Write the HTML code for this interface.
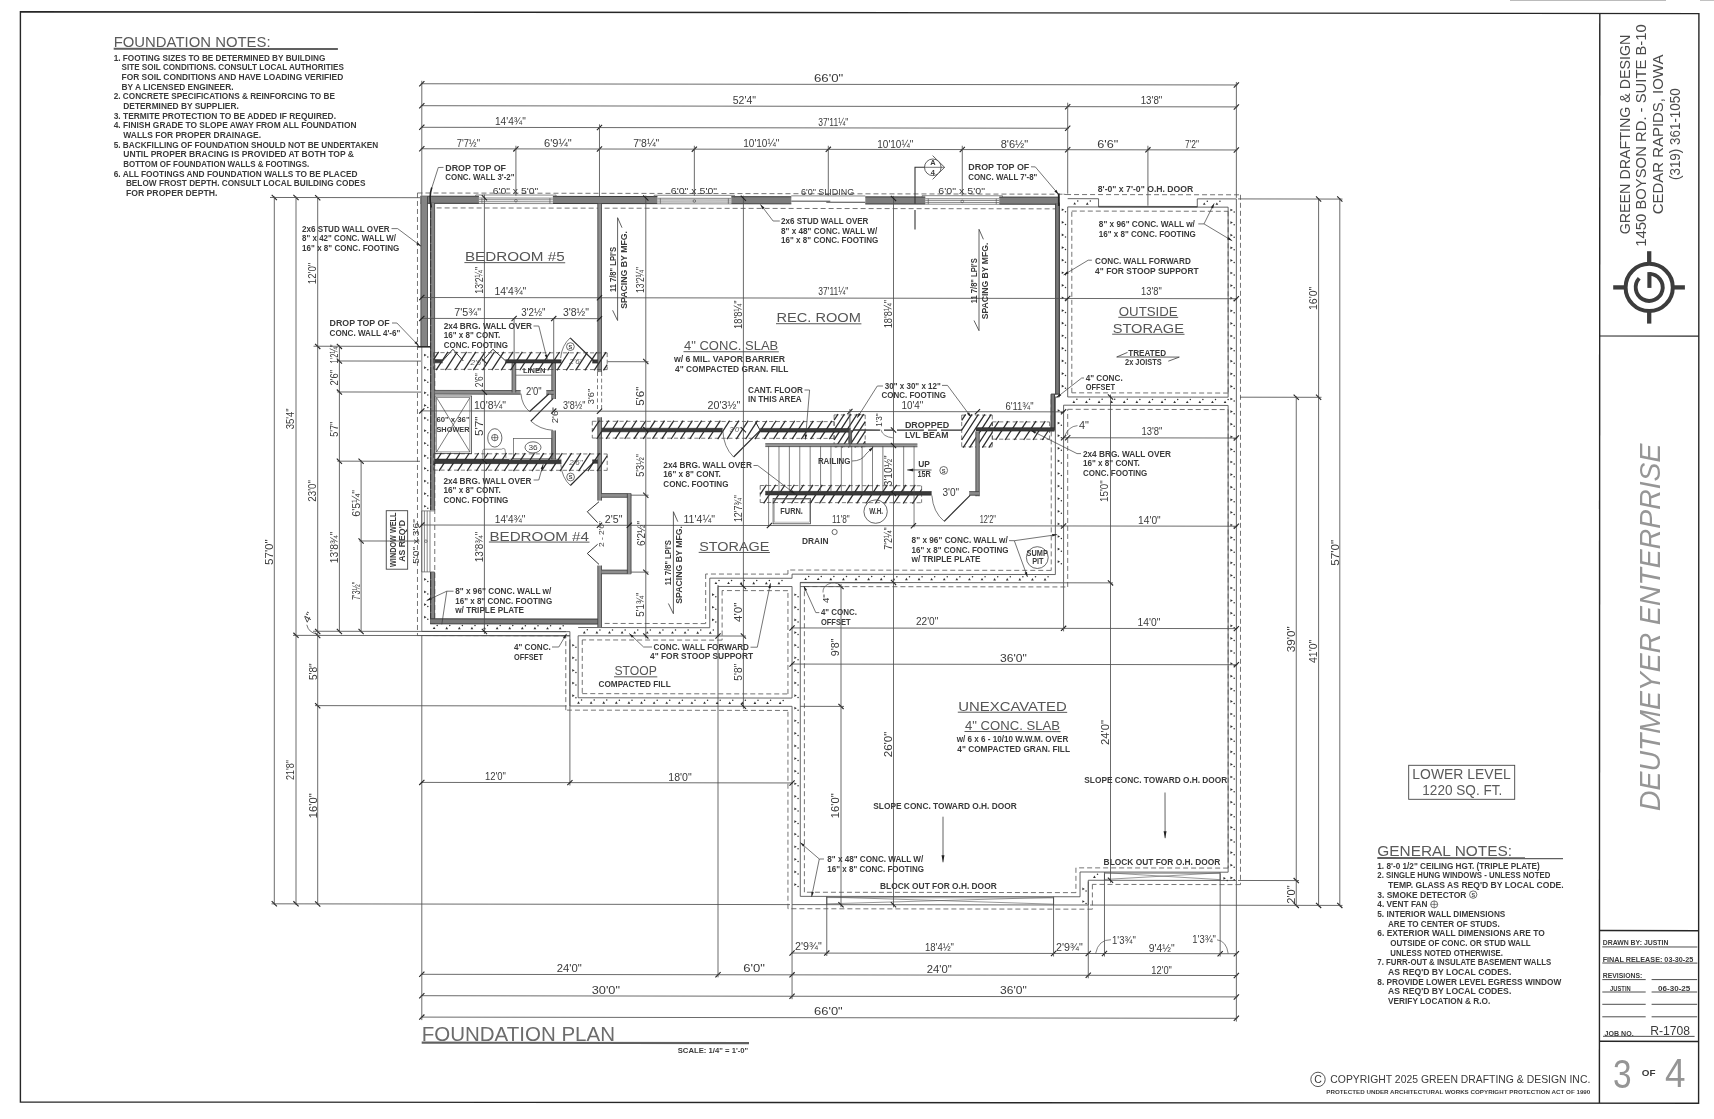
<!DOCTYPE html>
<html><head><meta charset="utf-8"><title>Foundation Plan</title>
<style>html,body{margin:0;padding:0;background:#fff}svg{display:block;filter:grayscale(1)}text{font-family:"Liberation Sans",sans-serif;fill:#3a3a3a}</style></head>
<body>
<svg width="1714" height="1119" viewBox="0 0 1714 1119">
<rect width="1714" height="1119" fill="#fff"/>
<polygon points="20.4,11.7 1698.9,13.6 1698.6,1103.2 20.4,1102" fill="none" stroke="#262626" stroke-width="1.4"/>
<line x1="1599.8" y1="13.5" x2="1599.4" y2="1103.1" stroke="#262626" stroke-width="1.4"/>
<line x1="1599.7" y1="336" x2="1698.8" y2="336.1" stroke="#262626" stroke-width="1.2"/>
<line x1="1599.5" y1="930.6" x2="1698.7" y2="930.8" stroke="#262626" stroke-width="1.5"/>
<line x1="1599.5" y1="1041.3" x2="1698.7" y2="1041.5" stroke="#262626" stroke-width="1.5"/>
<line x1="1510" y1="0.3" x2="1666" y2="0.3" stroke="#bbb" stroke-width="1.2"/>
<line x1="1700" y1="0.3" x2="1714" y2="0.3" stroke="#bbb" stroke-width="1.2"/>
<line x1="1602.3" y1="946.9" x2="1697.4" y2="947" stroke="#3a3a3a" stroke-width="0.9"/>
<line x1="1602.3" y1="963" x2="1697.4" y2="963.1" stroke="#3a3a3a" stroke-width="0.9"/>
<line x1="1602.3" y1="979.6" x2="1645.7" y2="979.6" stroke="#3a3a3a" stroke-width="0.9"/>
<line x1="1651.6" y1="979.6" x2="1697.2" y2="979.6" stroke="#3a3a3a" stroke-width="0.9"/>
<line x1="1602.3" y1="992" x2="1645.7" y2="992" stroke="#3a3a3a" stroke-width="0.9"/>
<line x1="1651.6" y1="992" x2="1697.2" y2="992" stroke="#3a3a3a" stroke-width="0.9"/>
<line x1="1602.3" y1="1004.3" x2="1645.7" y2="1004.3" stroke="#3a3a3a" stroke-width="0.9"/>
<line x1="1651.6" y1="1004.3" x2="1697.2" y2="1004.3" stroke="#3a3a3a" stroke-width="0.9"/>
<line x1="1602.3" y1="1016.8" x2="1645.7" y2="1016.8" stroke="#3a3a3a" stroke-width="0.9"/>
<line x1="1651.6" y1="1016.8" x2="1697.2" y2="1016.8" stroke="#3a3a3a" stroke-width="0.9"/>
<line x1="1603" y1="1036.3" x2="1694.6" y2="1036.4" stroke="#3a3a3a" stroke-width="0.9"/>
<text x="1602.7" y="945.4" font-size="7.2" textLength="65.7" lengthAdjust="spacingAndGlyphs" font-weight="bold">DRAWN BY: JUSTIN</text>
<text x="1602.7" y="961.6" font-size="7.2" textLength="90.6" lengthAdjust="spacingAndGlyphs" font-weight="bold">FINAL RELEASE: 03-30-25</text>
<text x="1602.7" y="977.7" font-size="7.2" textLength="39.7" lengthAdjust="spacingAndGlyphs" font-weight="bold">REVISIONS:</text>
<text x="1610.1" y="991" font-size="7" textLength="20.6" lengthAdjust="spacingAndGlyphs" font-weight="bold">JUSTIN</text>
<text x="1658" y="991" font-size="7" textLength="32.3" lengthAdjust="spacingAndGlyphs" font-weight="bold">06-30-25</text>
<text x="1604.6" y="1035.6" font-size="6.8" textLength="29" lengthAdjust="spacingAndGlyphs" font-weight="bold">JOB NO.</text>
<text x="1650.2" y="1034.6" font-size="12.9" textLength="39.8" lengthAdjust="spacingAndGlyphs">R-1708</text>
<text x="1613" y="1088.2" font-size="41" textLength="18.6" lengthAdjust="spacingAndGlyphs" style="fill:#959595">3</text>
<text x="1641.8" y="1075.5" font-size="9" textLength="13.7" lengthAdjust="spacingAndGlyphs" font-weight="bold">OF</text>
<text x="1664.9" y="1087.4" font-size="41" textLength="20.5" lengthAdjust="spacingAndGlyphs" style="fill:#959595">4</text>
<text x="1629.8" y="234.3" font-size="15" textLength="199.7" lengthAdjust="spacingAndGlyphs" transform="rotate(-90 1629.8 234.3)" style="fill:#4a4a4a">GREEN DRAFTING &amp; DESIGN</text>
<text x="1646.4" y="246.7" font-size="15" textLength="222.5" lengthAdjust="spacingAndGlyphs" transform="rotate(-90 1646.4 246.7)" style="fill:#4a4a4a">1450 BOYSON RD. - SUITE B-10</text>
<text x="1662.8" y="214.3" font-size="15" textLength="159.7" lengthAdjust="spacingAndGlyphs" transform="rotate(-90 1662.8 214.3)" style="fill:#4a4a4a">CEDAR RAPIDS, IOWA</text>
<text x="1680.2" y="180" font-size="15" textLength="91.7" lengthAdjust="spacingAndGlyphs" transform="rotate(-90 1680.2 180)" style="fill:#4a4a4a">(319) 361-1050</text>
<circle cx="1649.2" cy="287.4" r="23.6" fill="none" stroke="#3c3c3c" stroke-width="4"/>
<line x1="1613.2" y1="287.4" x2="1625.2" y2="287.4" stroke="#3c3c3c" stroke-width="4.3"/>
<line x1="1673.2" y1="287.4" x2="1684.9" y2="287.4" stroke="#3c3c3c" stroke-width="4.3"/>
<line x1="1649.2" y1="251.2" x2="1649.2" y2="263.4" stroke="#3c3c3c" stroke-width="4.3"/>
<line x1="1649.2" y1="311.4" x2="1649.2" y2="323.6" stroke="#3c3c3c" stroke-width="4.3"/>
<path d="M 1649.4 273.9 A 13.5 13.5 0 1 1 1639.23 278.3" fill="none" stroke="#3c3c3c" stroke-width="3.9"/>
<line x1="1649.4" y1="272.1" x2="1649.4" y2="287.9" stroke="#3c3c3c" stroke-width="4.1"/>
<text x="1660" y="811" font-size="29" textLength="367.5" lengthAdjust="spacingAndGlyphs" transform="rotate(-90 1660 811)" font-style="italic" style="fill:#969696">DEUTMEYER ENTERPRISE</text>
<text x="113.7" y="46.8" font-size="14.8" textLength="156.9" lengthAdjust="spacingAndGlyphs" style="fill:#5a5a5a">FOUNDATION NOTES:</text>
<line x1="113.7" y1="48.8" x2="337.9" y2="49.1" stroke="#606060" stroke-width="2"/>
<text x="113.7" y="60.7" font-size="8.4" textLength="211.6" lengthAdjust="spacingAndGlyphs" font-weight="bold">1. FOOTING SIZES TO BE DETERMINED BY BUILDING</text>
<text x="121.6" y="70.36" font-size="8.4" textLength="222.3" lengthAdjust="spacingAndGlyphs" font-weight="bold">SITE SOIL CONDITIONS.  CONSULT LOCAL AUTHORITIES</text>
<text x="121.6" y="80.02" font-size="8.4" textLength="221.6" lengthAdjust="spacingAndGlyphs" font-weight="bold">FOR SOIL CONDITIONS AND HAVE LOADING VERIFIED</text>
<text x="121.6" y="89.68" font-size="8.4" textLength="111.9" lengthAdjust="spacingAndGlyphs" font-weight="bold">BY A LICENSED ENGINEER.</text>
<text x="113.7" y="99.34" font-size="8.4" textLength="221.3" lengthAdjust="spacingAndGlyphs" font-weight="bold">2. CONCRETE SPECIFICATIONS &amp; REINFORCING TO BE</text>
<text x="123.3" y="109" font-size="8.4" textLength="115.5" lengthAdjust="spacingAndGlyphs" font-weight="bold">DETERMINED BY SUPPLIER.</text>
<text x="113.7" y="118.66" font-size="8.4" textLength="222.3" lengthAdjust="spacingAndGlyphs" font-weight="bold">3. TERMITE PROTECTION TO BE ADDED IF REQUIRED.</text>
<text x="113.7" y="128.32" font-size="8.4" textLength="242.8" lengthAdjust="spacingAndGlyphs" font-weight="bold">4. FINISH GRADE TO SLOPE AWAY FROM ALL FOUNDATION</text>
<text x="123.3" y="137.98" font-size="8.4" textLength="137.7" lengthAdjust="spacingAndGlyphs" font-weight="bold">WALLS FOR PROPER DRAINAGE.</text>
<text x="113.7" y="147.64" font-size="8.4" textLength="264.6" lengthAdjust="spacingAndGlyphs" font-weight="bold">5. BACKFILLING OF FOUNDATION SHOULD NOT BE UNDERTAKEN</text>
<text x="123.3" y="157.3" font-size="8.4" textLength="230.7" lengthAdjust="spacingAndGlyphs" font-weight="bold">UNTIL PROPER BRACING IS PROVIDED AT BOTH TOP &amp;</text>
<text x="123.3" y="166.96" font-size="8.4" textLength="186" lengthAdjust="spacingAndGlyphs" font-weight="bold">BOTTOM OF FOUNDATION WALLS &amp; FOOTINGS.</text>
<text x="113.7" y="176.62" font-size="8.4" textLength="243.8" lengthAdjust="spacingAndGlyphs" font-weight="bold">6. ALL FOOTINGS AND FOUNDATION WALLS TO BE PLACED</text>
<text x="125.9" y="186.28" font-size="8.4" textLength="239.5" lengthAdjust="spacingAndGlyphs" font-weight="bold">BELOW FROST DEPTH.  CONSULT LOCAL BUILDING CODES</text>
<text x="125.9" y="195.94" font-size="8.4" textLength="91.5" lengthAdjust="spacingAndGlyphs" font-weight="bold">FOR PROPER DEPTH.</text>
<line x1="420.8" y1="83.75" x2="1237.37" y2="84.97" stroke="#505050" stroke-width="0.85"/>
<line x1="419.2" y1="86.35" x2="424.4" y2="81.15" stroke="#222" stroke-width="1.1"/>
<line x1="1233.77" y1="87.57" x2="1238.97" y2="82.37" stroke="#222" stroke-width="1.1"/>
<line x1="420.8" y1="105.7" x2="1237.37" y2="106.92" stroke="#505050" stroke-width="0.85"/>
<line x1="419.2" y1="108.3" x2="424.4" y2="103.1" stroke="#222" stroke-width="1.1"/>
<line x1="1065.1" y1="109.27" x2="1070.3" y2="104.07" stroke="#222" stroke-width="1.1"/>
<line x1="1233.77" y1="109.52" x2="1238.97" y2="104.32" stroke="#222" stroke-width="1.1"/>
<line x1="420.8" y1="127.3" x2="1068.7" y2="128.27" stroke="#505050" stroke-width="0.85"/>
<line x1="419.2" y1="129.9" x2="424.4" y2="124.7" stroke="#222" stroke-width="1.1"/>
<line x1="596.87" y1="130.17" x2="602.07" y2="124.97" stroke="#222" stroke-width="1.1"/>
<line x1="1065.1" y1="130.87" x2="1070.3" y2="125.67" stroke="#222" stroke-width="1.1"/>
<line x1="420.8" y1="148.75" x2="1237.37" y2="149.97" stroke="#505050" stroke-width="0.85"/>
<line x1="419.2" y1="151.35" x2="424.4" y2="146.15" stroke="#222" stroke-width="1.1"/>
<line x1="513.31" y1="151.49" x2="518.51" y2="146.29" stroke="#222" stroke-width="1.1"/>
<line x1="596.87" y1="151.62" x2="602.07" y2="146.42" stroke="#222" stroke-width="1.1"/>
<line x1="691.75" y1="151.76" x2="696.95" y2="146.56" stroke="#222" stroke-width="1.1"/>
<line x1="825.71" y1="151.96" x2="830.91" y2="146.76" stroke="#222" stroke-width="1.1"/>
<line x1="959.68" y1="152.16" x2="964.88" y2="146.96" stroke="#222" stroke-width="1.1"/>
<line x1="1065.1" y1="152.32" x2="1070.3" y2="147.12" stroke="#222" stroke-width="1.1"/>
<line x1="1145.32" y1="152.44" x2="1150.52" y2="147.24" stroke="#222" stroke-width="1.1"/>
<line x1="1233.77" y1="152.57" x2="1238.97" y2="147.37" stroke="#222" stroke-width="1.1"/>
<line x1="421.8" y1="80.75" x2="421.8" y2="195.7" stroke="#505050" stroke-width="0.85"/>
<line x1="1236.37" y1="81.97" x2="1236.37" y2="197.92" stroke="#505050" stroke-width="0.85"/>
<line x1="1067.7" y1="102.7" x2="1067.7" y2="193.7" stroke="#505050" stroke-width="0.85"/>
<line x1="599.47" y1="124.3" x2="599.47" y2="196.7" stroke="#505050" stroke-width="0.85"/>
<line x1="515.91" y1="145.75" x2="515.91" y2="195.7" stroke="#505050" stroke-width="0.85"/>
<line x1="694.35" y1="145.75" x2="694.35" y2="195.7" stroke="#505050" stroke-width="0.85"/>
<line x1="828.31" y1="145.75" x2="828.31" y2="195.7" stroke="#505050" stroke-width="0.85"/>
<line x1="962.28" y1="145.75" x2="962.28" y2="195.7" stroke="#505050" stroke-width="0.85"/>
<line x1="1147.92" y1="145.75" x2="1147.92" y2="205.7" stroke="#505050" stroke-width="0.85"/>
<line x1="791.06" y1="953.05" x2="1237.37" y2="953.72" stroke="#505050" stroke-width="0.85"/>
<line x1="789.46" y1="955.66" x2="794.66" y2="950.46" stroke="#222" stroke-width="1.1"/>
<line x1="824.17" y1="955.71" x2="829.37" y2="950.51" stroke="#222" stroke-width="1.1"/>
<line x1="1050.96" y1="956.05" x2="1056.16" y2="950.85" stroke="#222" stroke-width="1.1"/>
<line x1="1085.67" y1="956.1" x2="1090.87" y2="950.9" stroke="#222" stroke-width="1.1"/>
<line x1="1101.87" y1="956.12" x2="1107.07" y2="950.92" stroke="#222" stroke-width="1.1"/>
<line x1="1217.57" y1="956.3" x2="1222.77" y2="951.1" stroke="#222" stroke-width="1.1"/>
<line x1="1233.77" y1="956.32" x2="1238.97" y2="951.12" stroke="#222" stroke-width="1.1"/>
<line x1="420.8" y1="974.3" x2="1237.37" y2="975.52" stroke="#505050" stroke-width="0.85"/>
<line x1="419.2" y1="976.9" x2="424.4" y2="971.7" stroke="#222" stroke-width="1.1"/>
<line x1="715.41" y1="977.34" x2="720.61" y2="972.14" stroke="#222" stroke-width="1.1"/>
<line x1="789.46" y1="977.46" x2="794.66" y2="972.26" stroke="#222" stroke-width="1.1"/>
<line x1="1085.67" y1="977.9" x2="1090.87" y2="972.7" stroke="#222" stroke-width="1.1"/>
<line x1="1233.77" y1="978.12" x2="1238.97" y2="972.92" stroke="#222" stroke-width="1.1"/>
<line x1="420.8" y1="995.7" x2="1237.37" y2="996.92" stroke="#505050" stroke-width="0.85"/>
<line x1="419.2" y1="998.3" x2="424.4" y2="993.1" stroke="#222" stroke-width="1.1"/>
<line x1="789.46" y1="998.86" x2="794.66" y2="993.66" stroke="#222" stroke-width="1.1"/>
<line x1="1233.77" y1="999.52" x2="1238.97" y2="994.32" stroke="#222" stroke-width="1.1"/>
<line x1="420.8" y1="1017.1" x2="1237.37" y2="1018.32" stroke="#505050" stroke-width="0.85"/>
<line x1="419.2" y1="1019.7" x2="424.4" y2="1014.5" stroke="#222" stroke-width="1.1"/>
<line x1="1233.77" y1="1020.92" x2="1238.97" y2="1015.72" stroke="#222" stroke-width="1.1"/>
<line x1="274.3" y1="196.48" x2="274.3" y2="904.82" stroke="#505050" stroke-width="0.85"/>
<line x1="271.7" y1="194.88" x2="276.9" y2="200.08" stroke="#222" stroke-width="1.1"/>
<line x1="271.7" y1="901.22" x2="276.9" y2="906.42" stroke="#222" stroke-width="1.1"/>
<line x1="296" y1="196.51" x2="296" y2="904.86" stroke="#505050" stroke-width="0.85"/>
<line x1="293.4" y1="194.91" x2="298.6" y2="200.11" stroke="#222" stroke-width="1.1"/>
<line x1="293.4" y1="632.76" x2="298.6" y2="637.96" stroke="#222" stroke-width="1.1"/>
<line x1="293.4" y1="901.26" x2="298.6" y2="906.46" stroke="#222" stroke-width="1.1"/>
<line x1="317.7" y1="196.7" x2="317.7" y2="905.04" stroke="#505050" stroke-width="0.85"/>
<line x1="315.1" y1="195.1" x2="320.3" y2="200.3" stroke="#222" stroke-width="1.1"/>
<line x1="315.1" y1="343.8" x2="320.3" y2="349" stroke="#222" stroke-width="1.1"/>
<line x1="315.1" y1="628.82" x2="320.3" y2="634.02" stroke="#222" stroke-width="1.1"/>
<line x1="315.1" y1="632.95" x2="320.3" y2="638.15" stroke="#222" stroke-width="1.1"/>
<line x1="315.1" y1="703.17" x2="320.3" y2="708.37" stroke="#222" stroke-width="1.1"/>
<line x1="315.1" y1="901.44" x2="320.3" y2="906.64" stroke="#222" stroke-width="1.1"/>
<line x1="339.4" y1="345.4" x2="339.4" y2="632.42" stroke="#505050" stroke-width="0.85"/>
<line x1="336.8" y1="343.8" x2="342" y2="349" stroke="#222" stroke-width="1.1"/>
<line x1="336.8" y1="358.52" x2="342" y2="363.72" stroke="#222" stroke-width="1.1"/>
<line x1="336.8" y1="389.5" x2="342" y2="394.7" stroke="#222" stroke-width="1.1"/>
<line x1="336.8" y1="458.69" x2="342" y2="463.89" stroke="#222" stroke-width="1.1"/>
<line x1="336.8" y1="628.82" x2="342" y2="634.02" stroke="#222" stroke-width="1.1"/>
<line x1="361.1" y1="460.29" x2="361.1" y2="632.42" stroke="#505050" stroke-width="0.85"/>
<line x1="358.5" y1="458.69" x2="363.7" y2="463.89" stroke="#222" stroke-width="1.1"/>
<line x1="358.5" y1="538.46" x2="363.7" y2="543.66" stroke="#222" stroke-width="1.1"/>
<line x1="358.5" y1="628.82" x2="363.7" y2="634.02" stroke="#222" stroke-width="1.1"/>
<line x1="1339.8" y1="198.05" x2="1339.8" y2="906.39" stroke="#505050" stroke-width="0.85"/>
<line x1="1337.2" y1="196.45" x2="1342.4" y2="201.65" stroke="#222" stroke-width="1.1"/>
<line x1="1337.2" y1="902.79" x2="1342.4" y2="907.99" stroke="#222" stroke-width="1.1"/>
<line x1="1318.6" y1="198.05" x2="1318.6" y2="906.39" stroke="#505050" stroke-width="0.85"/>
<line x1="1316" y1="196.45" x2="1321.2" y2="201.65" stroke="#222" stroke-width="1.1"/>
<line x1="1316" y1="394.72" x2="1321.2" y2="399.92" stroke="#222" stroke-width="1.1"/>
<line x1="1316" y1="902.79" x2="1321.2" y2="907.99" stroke="#222" stroke-width="1.1"/>
<line x1="1296.25" y1="396.32" x2="1296.25" y2="906.39" stroke="#505050" stroke-width="0.85"/>
<line x1="1293.65" y1="394.72" x2="1298.85" y2="399.92" stroke="#222" stroke-width="1.1"/>
<line x1="1293.65" y1="878.01" x2="1298.85" y2="883.21" stroke="#222" stroke-width="1.1"/>
<line x1="1293.65" y1="902.79" x2="1298.85" y2="907.99" stroke="#222" stroke-width="1.1"/>
<line x1="270" y1="197.47" x2="420" y2="197.7" stroke="#505050" stroke-width="0.85"/>
<line x1="313.5" y1="346.24" x2="418.3" y2="346.4" stroke="#505050" stroke-width="0.85"/>
<line x1="337.3" y1="360.99" x2="421" y2="361.12" stroke="#505050" stroke-width="0.85"/>
<line x1="337.3" y1="391.97" x2="421" y2="392.1" stroke="#505050" stroke-width="0.85"/>
<line x1="337.3" y1="461.16" x2="420" y2="461.29" stroke="#505050" stroke-width="0.85"/>
<line x1="359.3" y1="540.97" x2="419.5" y2="541.06" stroke="#505050" stroke-width="0.85"/>
<line x1="313" y1="631.26" x2="566" y2="631.64" stroke="#505050" stroke-width="0.85"/>
<line x1="293" y1="635.36" x2="570" y2="635.77" stroke="#505050" stroke-width="0.85"/>
<line x1="315" y1="705.61" x2="566.7" y2="705.99" stroke="#505050" stroke-width="0.85"/>
<line x1="271.5" y1="903.82" x2="790" y2="904.6" stroke="#505050" stroke-width="0.85"/>
<line x1="1238" y1="198.92" x2="1342.5" y2="199.08" stroke="#505050" stroke-width="0.85"/>
<line x1="1240" y1="397.2" x2="1321.5" y2="397.32" stroke="#505050" stroke-width="0.85"/>
<line x1="1238" y1="880.48" x2="1299" y2="880.58" stroke="#505050" stroke-width="0.85"/>
<line x1="1090" y1="905.05" x2="1342.5" y2="905.43" stroke="#505050" stroke-width="0.85"/>
<line x1="421.8" y1="635.92" x2="421.8" y2="1020.1" stroke="#505050" stroke-width="0.85"/>
<line x1="569.9" y1="639.42" x2="569.9" y2="785.5" stroke="#505050" stroke-width="0.85"/>
<line x1="718.01" y1="585" x2="718.01" y2="977.3" stroke="#505050" stroke-width="0.85"/>
<line x1="792.06" y1="904.6" x2="792.06" y2="999.2" stroke="#505050" stroke-width="0.85"/>
<line x1="826.77" y1="896.7" x2="826.77" y2="956" stroke="#505050" stroke-width="0.85"/>
<line x1="1053.56" y1="897.5" x2="1053.56" y2="956.5" stroke="#505050" stroke-width="0.85"/>
<line x1="1088.27" y1="881.5" x2="1088.27" y2="978.3" stroke="#505050" stroke-width="0.85"/>
<line x1="1104.47" y1="873.5" x2="1104.47" y2="956.5" stroke="#505050" stroke-width="0.85"/>
<line x1="1220.17" y1="873.5" x2="1220.17" y2="956.5" stroke="#505050" stroke-width="0.85"/>
<line x1="1236.37" y1="880.48" x2="1236.37" y2="1021.6" stroke="#505050" stroke-width="0.85"/>
<line x1="1067.7" y1="198.67" x2="1098.55" y2="198.72" stroke="#4c4c4c" stroke-width="0.85"/>
<line x1="1098.55" y1="198.72" x2="1098.55" y2="206.98" stroke="#4c4c4c" stroke-width="0.85"/>
<line x1="1098.55" y1="206.98" x2="1197.29" y2="207.12" stroke="#4c4c4c" stroke-width="0.85"/>
<line x1="1197.29" y1="207.12" x2="1197.29" y2="198.86" stroke="#4c4c4c" stroke-width="0.85"/>
<line x1="1197.29" y1="198.86" x2="1236.37" y2="198.92" stroke="#4c4c4c" stroke-width="0.85"/>
<line x1="1236.37" y1="198.92" x2="1236.37" y2="880.48" stroke="#4c4c4c" stroke-width="0.85"/>
<line x1="1236.37" y1="880.48" x2="1088.27" y2="880.26" stroke="#4c4c4c" stroke-width="0.85"/>
<line x1="1088.27" y1="880.26" x2="1088.27" y2="905.04" stroke="#4c4c4c" stroke-width="0.85"/>
<line x1="1088.27" y1="905.04" x2="792.06" y2="904.6" stroke="#4c4c4c" stroke-width="0.85"/>
<line x1="792.06" y1="904.6" x2="792.06" y2="706.33" stroke="#4c4c4c" stroke-width="0.85"/>
<line x1="1098.55" y1="206.36" x2="1197.29" y2="206.5" stroke="#4c4c4c" stroke-width="0.9"/>
<line x1="1067.7" y1="206.93" x2="1228.14" y2="207.17" stroke="#4c4c4c" stroke-width="0.85"/>
<line x1="1228.14" y1="207.17" x2="1228.14" y2="397.18" stroke="#4c4c4c" stroke-width="0.85"/>
<line x1="1228.14" y1="397.18" x2="1067.7" y2="396.94" stroke="#4c4c4c" stroke-width="0.85"/>
<line x1="1067.7" y1="396.94" x2="1067.7" y2="206.93" stroke="#4c4c4c" stroke-width="0.85"/>
<line x1="1063.58" y1="405.2" x2="1228.14" y2="405.44" stroke="#4c4c4c" stroke-width="0.85"/>
<line x1="1228.14" y1="405.44" x2="1228.14" y2="872.21" stroke="#4c4c4c" stroke-width="0.85"/>
<line x1="1228.14" y1="872.21" x2="1080.04" y2="871.99" stroke="#4c4c4c" stroke-width="0.85"/>
<line x1="1080.04" y1="871.99" x2="1080.04" y2="896.77" stroke="#4c4c4c" stroke-width="0.85"/>
<line x1="1080.04" y1="896.77" x2="800.29" y2="896.35" stroke="#4c4c4c" stroke-width="0.85"/>
<line x1="800.29" y1="896.35" x2="800.29" y2="582.42" stroke="#4c4c4c" stroke-width="0.85"/>
<line x1="800.29" y1="582.42" x2="1063.58" y2="582.81" stroke="#4c4c4c" stroke-width="0.85"/>
<line x1="1063.58" y1="582.81" x2="1063.58" y2="405.2" stroke="#4c4c4c" stroke-width="0.85"/>
<line x1="1059.47" y1="202.37" x2="1059.47" y2="396.93" stroke="#4c4c4c" stroke-width="0.85"/>
<line x1="1059.47" y1="396.93" x2="1055.36" y2="396.92" stroke="#4c4c4c" stroke-width="0.85"/>
<line x1="1055.36" y1="396.92" x2="1055.36" y2="574.54" stroke="#4c4c4c" stroke-width="0.85"/>
<line x1="1055.36" y1="574.54" x2="792.06" y2="574.15" stroke="#4c4c4c" stroke-width="0.85"/>
<line x1="792.06" y1="574.15" x2="792.06" y2="578.28" stroke="#4c4c4c" stroke-width="0.85"/>
<line x1="792.06" y1="578.28" x2="709.78" y2="578.15" stroke="#4c4c4c" stroke-width="0.85"/>
<line x1="709.78" y1="578.15" x2="709.78" y2="627.72" stroke="#4c4c4c" stroke-width="0.85"/>
<line x1="709.78" y1="627.72" x2="578.13" y2="627.52" stroke="#4c4c4c" stroke-width="0.85"/>
<line x1="792.06" y1="586.54" x2="718.01" y2="586.43" stroke="#4c4c4c" stroke-width="0.85"/>
<line x1="718.01" y1="586.43" x2="718.01" y2="635.99" stroke="#4c4c4c" stroke-width="0.85"/>
<line x1="718.01" y1="635.99" x2="578.13" y2="635.79" stroke="#4c4c4c" stroke-width="0.85"/>
<line x1="578.13" y1="635.79" x2="578.13" y2="697.75" stroke="#4c4c4c" stroke-width="0.85"/>
<line x1="578.13" y1="697.75" x2="792.06" y2="698.07" stroke="#4c4c4c" stroke-width="0.85"/>
<line x1="792.06" y1="586.54" x2="792.06" y2="698.07" stroke="#4c4c4c" stroke-width="0.85"/>
<line x1="421.8" y1="631.42" x2="569.9" y2="631.64" stroke="#4c4c4c" stroke-width="0.85"/>
<line x1="569.9" y1="631.64" x2="569.9" y2="705.99" stroke="#4c4c4c" stroke-width="0.85"/>
<line x1="569.9" y1="705.99" x2="792.06" y2="706.33" stroke="#4c4c4c" stroke-width="0.85"/>
<line x1="421.8" y1="635.55" x2="569.9" y2="635.77" stroke="#4c4c4c" stroke-width="0.85"/>
<line x1="421.8" y1="347.02" x2="421.8" y2="631.42" stroke="#666" stroke-width="0.85"/>
<line x1="417.48" y1="192.98" x2="1063.58" y2="194.2" stroke="#505050" stroke-width="0.8" stroke-dasharray="5 3"/>
<line x1="1063.58" y1="194.2" x2="1066.05" y2="194.54" stroke="#505050" stroke-width="0.8" stroke-dasharray="5 3"/>
<line x1="1066.05" y1="194.54" x2="1240.49" y2="194.8" stroke="#505050" stroke-width="0.8" stroke-dasharray="5 3"/>
<line x1="1240.49" y1="194.8" x2="1240.49" y2="884.62" stroke="#505050" stroke-width="0.8" stroke-dasharray="5 3"/>
<line x1="1240.49" y1="884.62" x2="1092.38" y2="884.4" stroke="#505050" stroke-width="0.8" stroke-dasharray="5 3"/>
<line x1="1092.38" y1="884.4" x2="1092.38" y2="909.18" stroke="#505050" stroke-width="0.8" stroke-dasharray="5 3"/>
<line x1="1092.38" y1="909.18" x2="787.95" y2="908.72" stroke="#505050" stroke-width="0.8" stroke-dasharray="5 3"/>
<line x1="787.95" y1="908.72" x2="787.95" y2="710.45" stroke="#505050" stroke-width="0.8" stroke-dasharray="5 3"/>
<line x1="787.95" y1="710.45" x2="565.79" y2="710.12" stroke="#505050" stroke-width="0.8" stroke-dasharray="5 3"/>
<line x1="565.79" y1="710.12" x2="565.79" y2="637.01" stroke="#505050" stroke-width="0.8" stroke-dasharray="5 3"/>
<line x1="417.48" y1="192.98" x2="417.48" y2="635.54" stroke="#505050" stroke-width="0.8" stroke-dasharray="5 3"/>
<line x1="417.48" y1="635.54" x2="565.79" y2="635.77" stroke="#505050" stroke-width="0.8" stroke-dasharray="5 3"/>
<line x1="436.61" y1="207.92" x2="1055.36" y2="208.85" stroke="#505050" stroke-width="0.8" stroke-dasharray="5 3"/>
<line x1="1071.81" y1="211.07" x2="1228.14" y2="211.3" stroke="#505050" stroke-width="0.8" stroke-dasharray="5 3"/>
<line x1="1228.14" y1="211.3" x2="1228.14" y2="393.05" stroke="#505050" stroke-width="0.8" stroke-dasharray="5 3"/>
<line x1="1228.14" y1="393.05" x2="1071.81" y2="392.82" stroke="#505050" stroke-width="0.8" stroke-dasharray="5 3"/>
<line x1="1071.81" y1="392.82" x2="1071.81" y2="211.07" stroke="#505050" stroke-width="0.8" stroke-dasharray="5 3"/>
<line x1="1067.7" y1="409.33" x2="1228.14" y2="409.57" stroke="#505050" stroke-width="0.8" stroke-dasharray="5 3"/>
<line x1="1228.14" y1="409.57" x2="1228.14" y2="868.08" stroke="#505050" stroke-width="0.8" stroke-dasharray="5 3"/>
<line x1="1228.14" y1="868.08" x2="1075.93" y2="867.85" stroke="#505050" stroke-width="0.8" stroke-dasharray="5 3"/>
<line x1="1075.93" y1="867.85" x2="1075.93" y2="892.63" stroke="#505050" stroke-width="0.8" stroke-dasharray="5 3"/>
<line x1="1075.93" y1="892.63" x2="804.4" y2="892.23" stroke="#505050" stroke-width="0.8" stroke-dasharray="5 3"/>
<line x1="804.4" y1="892.23" x2="804.4" y2="586.56" stroke="#505050" stroke-width="0.8" stroke-dasharray="5 3"/>
<line x1="804.4" y1="586.56" x2="1067.7" y2="586.95" stroke="#505050" stroke-width="0.8" stroke-dasharray="5 3"/>
<line x1="1067.7" y1="586.95" x2="1067.7" y2="409.33" stroke="#505050" stroke-width="0.8" stroke-dasharray="5 3"/>
<line x1="1051.24" y1="399.39" x2="1051.24" y2="570.4" stroke="#505050" stroke-width="0.8" stroke-dasharray="5 3"/>
<line x1="1051.24" y1="570.4" x2="787.95" y2="570.01" stroke="#505050" stroke-width="0.8" stroke-dasharray="5 3"/>
<line x1="787.95" y1="570.01" x2="787.95" y2="574.14" stroke="#505050" stroke-width="0.8" stroke-dasharray="5 3"/>
<line x1="787.95" y1="574.14" x2="705.67" y2="574.02" stroke="#505050" stroke-width="0.8" stroke-dasharray="5 3"/>
<line x1="705.67" y1="574.02" x2="705.67" y2="623.58" stroke="#505050" stroke-width="0.8" stroke-dasharray="5 3"/>
<line x1="705.67" y1="623.58" x2="601.99" y2="623.43" stroke="#505050" stroke-width="0.8" stroke-dasharray="5 3"/>
<line x1="787.95" y1="590.66" x2="722.12" y2="590.56" stroke="#505050" stroke-width="0.8" stroke-dasharray="5 3"/>
<line x1="722.12" y1="590.56" x2="722.12" y2="640.13" stroke="#505050" stroke-width="0.8" stroke-dasharray="5 3"/>
<line x1="722.12" y1="640.13" x2="582.25" y2="639.92" stroke="#505050" stroke-width="0.8" stroke-dasharray="5 3"/>
<line x1="582.25" y1="639.92" x2="582.25" y2="693.62" stroke="#505050" stroke-width="0.8" stroke-dasharray="5 3"/>
<line x1="582.25" y1="693.62" x2="787.95" y2="693.93" stroke="#505050" stroke-width="0.8" stroke-dasharray="5 3"/>
<line x1="787.95" y1="693.93" x2="787.95" y2="590.66" stroke="#505050" stroke-width="0.8" stroke-dasharray="5 3"/>
<line x1="434.76" y1="365.01" x2="434.76" y2="621.53" stroke="#505050" stroke-width="0.8" stroke-dasharray="5 3"/>
<path d="M1061.78 208.42l0 2.7l2.4 -1.35z" fill="#2e2e2e"/>
<circle cx="1065.48" cy="211.82" r="0.75" fill="#2e2e2e"/>
<path d="M1061.78 221.02l0 2.7l2.4 -1.35z" fill="#2e2e2e"/>
<circle cx="1065.48" cy="224.42" r="0.75" fill="#2e2e2e"/>
<path d="M1061.78 233.62l0 2.7l2.4 -1.35z" fill="#2e2e2e"/>
<circle cx="1065.48" cy="237.02" r="0.75" fill="#2e2e2e"/>
<path d="M1061.78 246.22l0 2.7l2.4 -1.35z" fill="#2e2e2e"/>
<circle cx="1065.48" cy="249.62" r="0.75" fill="#2e2e2e"/>
<path d="M1061.78 258.82l0 2.7l2.4 -1.35z" fill="#2e2e2e"/>
<circle cx="1065.48" cy="262.22" r="0.75" fill="#2e2e2e"/>
<path d="M1061.78 271.42l0 2.7l2.4 -1.35z" fill="#2e2e2e"/>
<circle cx="1065.48" cy="274.82" r="0.75" fill="#2e2e2e"/>
<path d="M1061.78 284.02l0 2.7l2.4 -1.35z" fill="#2e2e2e"/>
<circle cx="1065.48" cy="287.42" r="0.75" fill="#2e2e2e"/>
<path d="M1061.78 296.62l0 2.7l2.4 -1.35z" fill="#2e2e2e"/>
<circle cx="1065.48" cy="300.02" r="0.75" fill="#2e2e2e"/>
<path d="M1061.78 309.22l0 2.7l2.4 -1.35z" fill="#2e2e2e"/>
<circle cx="1065.48" cy="312.62" r="0.75" fill="#2e2e2e"/>
<path d="M1061.78 321.82l0 2.7l2.4 -1.35z" fill="#2e2e2e"/>
<circle cx="1065.48" cy="325.22" r="0.75" fill="#2e2e2e"/>
<path d="M1061.78 334.42l0 2.7l2.4 -1.35z" fill="#2e2e2e"/>
<circle cx="1065.48" cy="337.82" r="0.75" fill="#2e2e2e"/>
<path d="M1061.78 347.02l0 2.7l2.4 -1.35z" fill="#2e2e2e"/>
<circle cx="1065.48" cy="350.42" r="0.75" fill="#2e2e2e"/>
<path d="M1061.78 359.62l0 2.7l2.4 -1.35z" fill="#2e2e2e"/>
<circle cx="1065.48" cy="363.02" r="0.75" fill="#2e2e2e"/>
<path d="M1061.78 372.22l0 2.7l2.4 -1.35z" fill="#2e2e2e"/>
<circle cx="1065.48" cy="375.62" r="0.75" fill="#2e2e2e"/>
<path d="M1061.78 384.82l0 2.7l2.4 -1.35z" fill="#2e2e2e"/>
<circle cx="1065.48" cy="388.22" r="0.75" fill="#2e2e2e"/>
<path d="M1230.46 208.67l0 2.7l2.4 -1.35z" fill="#2e2e2e"/>
<circle cx="1234.16" cy="212.07" r="0.75" fill="#2e2e2e"/>
<path d="M1230.46 221.27l0 2.7l2.4 -1.35z" fill="#2e2e2e"/>
<circle cx="1234.16" cy="224.67" r="0.75" fill="#2e2e2e"/>
<path d="M1230.46 233.87l0 2.7l2.4 -1.35z" fill="#2e2e2e"/>
<circle cx="1234.16" cy="237.27" r="0.75" fill="#2e2e2e"/>
<path d="M1230.46 246.47l0 2.7l2.4 -1.35z" fill="#2e2e2e"/>
<circle cx="1234.16" cy="249.87" r="0.75" fill="#2e2e2e"/>
<path d="M1230.46 259.07l0 2.7l2.4 -1.35z" fill="#2e2e2e"/>
<circle cx="1234.16" cy="262.47" r="0.75" fill="#2e2e2e"/>
<path d="M1230.46 271.67l0 2.7l2.4 -1.35z" fill="#2e2e2e"/>
<circle cx="1234.16" cy="275.07" r="0.75" fill="#2e2e2e"/>
<path d="M1230.46 284.27l0 2.7l2.4 -1.35z" fill="#2e2e2e"/>
<circle cx="1234.16" cy="287.67" r="0.75" fill="#2e2e2e"/>
<path d="M1230.46 296.87l0 2.7l2.4 -1.35z" fill="#2e2e2e"/>
<circle cx="1234.16" cy="300.27" r="0.75" fill="#2e2e2e"/>
<path d="M1230.46 309.47l0 2.7l2.4 -1.35z" fill="#2e2e2e"/>
<circle cx="1234.16" cy="312.87" r="0.75" fill="#2e2e2e"/>
<path d="M1230.46 322.07l0 2.7l2.4 -1.35z" fill="#2e2e2e"/>
<circle cx="1234.16" cy="325.47" r="0.75" fill="#2e2e2e"/>
<path d="M1230.46 334.67l0 2.7l2.4 -1.35z" fill="#2e2e2e"/>
<circle cx="1234.16" cy="338.07" r="0.75" fill="#2e2e2e"/>
<path d="M1230.46 347.27l0 2.7l2.4 -1.35z" fill="#2e2e2e"/>
<circle cx="1234.16" cy="350.67" r="0.75" fill="#2e2e2e"/>
<path d="M1230.46 359.87l0 2.7l2.4 -1.35z" fill="#2e2e2e"/>
<circle cx="1234.16" cy="363.27" r="0.75" fill="#2e2e2e"/>
<path d="M1230.46 372.47l0 2.7l2.4 -1.35z" fill="#2e2e2e"/>
<circle cx="1234.16" cy="375.87" r="0.75" fill="#2e2e2e"/>
<path d="M1230.46 385.07l0 2.7l2.4 -1.35z" fill="#2e2e2e"/>
<circle cx="1234.16" cy="388.47" r="0.75" fill="#2e2e2e"/>
<path d="M1230.46 397.67l0 2.7l2.4 -1.35z" fill="#2e2e2e"/>
<circle cx="1234.16" cy="401.07" r="0.75" fill="#2e2e2e"/>
<path d="M1230.46 410.27l0 2.7l2.4 -1.35z" fill="#2e2e2e"/>
<circle cx="1234.16" cy="413.67" r="0.75" fill="#2e2e2e"/>
<path d="M1230.46 422.87l0 2.7l2.4 -1.35z" fill="#2e2e2e"/>
<circle cx="1234.16" cy="426.27" r="0.75" fill="#2e2e2e"/>
<path d="M1230.46 435.47l0 2.7l2.4 -1.35z" fill="#2e2e2e"/>
<circle cx="1234.16" cy="438.87" r="0.75" fill="#2e2e2e"/>
<path d="M1230.46 448.07l0 2.7l2.4 -1.35z" fill="#2e2e2e"/>
<circle cx="1234.16" cy="451.47" r="0.75" fill="#2e2e2e"/>
<path d="M1230.46 460.67l0 2.7l2.4 -1.35z" fill="#2e2e2e"/>
<circle cx="1234.16" cy="464.07" r="0.75" fill="#2e2e2e"/>
<path d="M1230.46 473.27l0 2.7l2.4 -1.35z" fill="#2e2e2e"/>
<circle cx="1234.16" cy="476.67" r="0.75" fill="#2e2e2e"/>
<path d="M1230.46 485.87l0 2.7l2.4 -1.35z" fill="#2e2e2e"/>
<circle cx="1234.16" cy="489.27" r="0.75" fill="#2e2e2e"/>
<path d="M1230.46 498.47l0 2.7l2.4 -1.35z" fill="#2e2e2e"/>
<circle cx="1234.16" cy="501.87" r="0.75" fill="#2e2e2e"/>
<path d="M1230.46 511.07l0 2.7l2.4 -1.35z" fill="#2e2e2e"/>
<circle cx="1234.16" cy="514.47" r="0.75" fill="#2e2e2e"/>
<path d="M1230.46 523.67l0 2.7l2.4 -1.35z" fill="#2e2e2e"/>
<circle cx="1234.16" cy="527.07" r="0.75" fill="#2e2e2e"/>
<path d="M1230.46 536.27l0 2.7l2.4 -1.35z" fill="#2e2e2e"/>
<circle cx="1234.16" cy="539.67" r="0.75" fill="#2e2e2e"/>
<path d="M1230.46 548.87l0 2.7l2.4 -1.35z" fill="#2e2e2e"/>
<circle cx="1234.16" cy="552.27" r="0.75" fill="#2e2e2e"/>
<path d="M1230.46 561.47l0 2.7l2.4 -1.35z" fill="#2e2e2e"/>
<circle cx="1234.16" cy="564.87" r="0.75" fill="#2e2e2e"/>
<path d="M1230.46 574.07l0 2.7l2.4 -1.35z" fill="#2e2e2e"/>
<circle cx="1234.16" cy="577.47" r="0.75" fill="#2e2e2e"/>
<path d="M1230.46 586.67l0 2.7l2.4 -1.35z" fill="#2e2e2e"/>
<circle cx="1234.16" cy="590.07" r="0.75" fill="#2e2e2e"/>
<path d="M1230.46 599.27l0 2.7l2.4 -1.35z" fill="#2e2e2e"/>
<circle cx="1234.16" cy="602.67" r="0.75" fill="#2e2e2e"/>
<path d="M1230.46 611.87l0 2.7l2.4 -1.35z" fill="#2e2e2e"/>
<circle cx="1234.16" cy="615.27" r="0.75" fill="#2e2e2e"/>
<path d="M1230.46 624.47l0 2.7l2.4 -1.35z" fill="#2e2e2e"/>
<circle cx="1234.16" cy="627.87" r="0.75" fill="#2e2e2e"/>
<path d="M1230.46 637.07l0 2.7l2.4 -1.35z" fill="#2e2e2e"/>
<circle cx="1234.16" cy="640.47" r="0.75" fill="#2e2e2e"/>
<path d="M1230.46 649.67l0 2.7l2.4 -1.35z" fill="#2e2e2e"/>
<circle cx="1234.16" cy="653.07" r="0.75" fill="#2e2e2e"/>
<path d="M1230.46 662.27l0 2.7l2.4 -1.35z" fill="#2e2e2e"/>
<circle cx="1234.16" cy="665.67" r="0.75" fill="#2e2e2e"/>
<path d="M1230.46 674.87l0 2.7l2.4 -1.35z" fill="#2e2e2e"/>
<circle cx="1234.16" cy="678.27" r="0.75" fill="#2e2e2e"/>
<path d="M1230.46 687.47l0 2.7l2.4 -1.35z" fill="#2e2e2e"/>
<circle cx="1234.16" cy="690.87" r="0.75" fill="#2e2e2e"/>
<path d="M1230.46 700.07l0 2.7l2.4 -1.35z" fill="#2e2e2e"/>
<circle cx="1234.16" cy="703.47" r="0.75" fill="#2e2e2e"/>
<path d="M1230.46 712.67l0 2.7l2.4 -1.35z" fill="#2e2e2e"/>
<circle cx="1234.16" cy="716.07" r="0.75" fill="#2e2e2e"/>
<path d="M1230.46 725.27l0 2.7l2.4 -1.35z" fill="#2e2e2e"/>
<circle cx="1234.16" cy="728.67" r="0.75" fill="#2e2e2e"/>
<path d="M1230.46 737.87l0 2.7l2.4 -1.35z" fill="#2e2e2e"/>
<circle cx="1234.16" cy="741.27" r="0.75" fill="#2e2e2e"/>
<path d="M1230.46 750.47l0 2.7l2.4 -1.35z" fill="#2e2e2e"/>
<circle cx="1234.16" cy="753.87" r="0.75" fill="#2e2e2e"/>
<path d="M1230.46 763.07l0 2.7l2.4 -1.35z" fill="#2e2e2e"/>
<circle cx="1234.16" cy="766.47" r="0.75" fill="#2e2e2e"/>
<path d="M1230.46 775.67l0 2.7l2.4 -1.35z" fill="#2e2e2e"/>
<circle cx="1234.16" cy="779.07" r="0.75" fill="#2e2e2e"/>
<path d="M1230.46 788.27l0 2.7l2.4 -1.35z" fill="#2e2e2e"/>
<circle cx="1234.16" cy="791.67" r="0.75" fill="#2e2e2e"/>
<path d="M1230.46 800.87l0 2.7l2.4 -1.35z" fill="#2e2e2e"/>
<circle cx="1234.16" cy="804.27" r="0.75" fill="#2e2e2e"/>
<path d="M1230.46 813.47l0 2.7l2.4 -1.35z" fill="#2e2e2e"/>
<circle cx="1234.16" cy="816.87" r="0.75" fill="#2e2e2e"/>
<path d="M1230.46 826.07l0 2.7l2.4 -1.35z" fill="#2e2e2e"/>
<circle cx="1234.16" cy="829.47" r="0.75" fill="#2e2e2e"/>
<path d="M1230.46 838.67l0 2.7l2.4 -1.35z" fill="#2e2e2e"/>
<circle cx="1234.16" cy="842.07" r="0.75" fill="#2e2e2e"/>
<path d="M1230.46 851.27l0 2.7l2.4 -1.35z" fill="#2e2e2e"/>
<circle cx="1234.16" cy="854.67" r="0.75" fill="#2e2e2e"/>
<path d="M1230.46 863.87l0 2.7l2.4 -1.35z" fill="#2e2e2e"/>
<circle cx="1234.16" cy="867.27" r="0.75" fill="#2e2e2e"/>
<path d="M1230.46 876.47l0 2.7l2.4 -1.35z" fill="#2e2e2e"/>
<circle cx="1234.16" cy="879.87" r="0.75" fill="#2e2e2e"/>
<path d="M1072.5 402.88l2.7 0l-1.35 -2.4z" fill="#2e2e2e"/>
<circle cx="1076.9" cy="399.28" r="0.75" fill="#2e2e2e"/>
<path d="M1085.1 402.9l2.7 0l-1.35 -2.4z" fill="#2e2e2e"/>
<circle cx="1089.5" cy="399.3" r="0.75" fill="#2e2e2e"/>
<path d="M1097.7 402.92l2.7 0l-1.35 -2.4z" fill="#2e2e2e"/>
<circle cx="1102.1" cy="399.32" r="0.75" fill="#2e2e2e"/>
<path d="M1110.3 402.94l2.7 0l-1.35 -2.4z" fill="#2e2e2e"/>
<circle cx="1114.7" cy="399.34" r="0.75" fill="#2e2e2e"/>
<path d="M1122.9 402.96l2.7 0l-1.35 -2.4z" fill="#2e2e2e"/>
<circle cx="1127.3" cy="399.36" r="0.75" fill="#2e2e2e"/>
<path d="M1135.5 402.98l2.7 0l-1.35 -2.4z" fill="#2e2e2e"/>
<circle cx="1139.9" cy="399.38" r="0.75" fill="#2e2e2e"/>
<path d="M1148.1 402.99l2.7 0l-1.35 -2.4z" fill="#2e2e2e"/>
<circle cx="1152.5" cy="399.39" r="0.75" fill="#2e2e2e"/>
<path d="M1160.7 403.01l2.7 0l-1.35 -2.4z" fill="#2e2e2e"/>
<circle cx="1165.1" cy="399.41" r="0.75" fill="#2e2e2e"/>
<path d="M1173.3 403.03l2.7 0l-1.35 -2.4z" fill="#2e2e2e"/>
<circle cx="1177.7" cy="399.43" r="0.75" fill="#2e2e2e"/>
<path d="M1185.9 403.05l2.7 0l-1.35 -2.4z" fill="#2e2e2e"/>
<circle cx="1190.3" cy="399.45" r="0.75" fill="#2e2e2e"/>
<path d="M1198.5 403.07l2.7 0l-1.35 -2.4z" fill="#2e2e2e"/>
<circle cx="1202.9" cy="399.47" r="0.75" fill="#2e2e2e"/>
<path d="M1211.1 403.09l2.7 0l-1.35 -2.4z" fill="#2e2e2e"/>
<circle cx="1215.5" cy="399.49" r="0.75" fill="#2e2e2e"/>
<path d="M1223.7 403.11l2.7 0l-1.35 -2.4z" fill="#2e2e2e"/>
<circle cx="1228.1" cy="399.51" r="0.75" fill="#2e2e2e"/>
<path d="M1057.67 409.16l0 2.7l2.4 -1.35z" fill="#2e2e2e"/>
<circle cx="1061.37" cy="412.56" r="0.75" fill="#2e2e2e"/>
<path d="M1057.67 421.76l0 2.7l2.4 -1.35z" fill="#2e2e2e"/>
<circle cx="1061.37" cy="425.16" r="0.75" fill="#2e2e2e"/>
<path d="M1057.67 434.36l0 2.7l2.4 -1.35z" fill="#2e2e2e"/>
<circle cx="1061.37" cy="437.76" r="0.75" fill="#2e2e2e"/>
<path d="M1057.67 446.96l0 2.7l2.4 -1.35z" fill="#2e2e2e"/>
<circle cx="1061.37" cy="450.36" r="0.75" fill="#2e2e2e"/>
<path d="M1057.67 459.56l0 2.7l2.4 -1.35z" fill="#2e2e2e"/>
<circle cx="1061.37" cy="462.96" r="0.75" fill="#2e2e2e"/>
<path d="M1057.67 472.16l0 2.7l2.4 -1.35z" fill="#2e2e2e"/>
<circle cx="1061.37" cy="475.56" r="0.75" fill="#2e2e2e"/>
<path d="M1057.67 484.76l0 2.7l2.4 -1.35z" fill="#2e2e2e"/>
<circle cx="1061.37" cy="488.16" r="0.75" fill="#2e2e2e"/>
<path d="M1057.67 497.36l0 2.7l2.4 -1.35z" fill="#2e2e2e"/>
<circle cx="1061.37" cy="500.76" r="0.75" fill="#2e2e2e"/>
<path d="M1057.67 509.96l0 2.7l2.4 -1.35z" fill="#2e2e2e"/>
<circle cx="1061.37" cy="513.36" r="0.75" fill="#2e2e2e"/>
<path d="M1057.67 522.56l0 2.7l2.4 -1.35z" fill="#2e2e2e"/>
<circle cx="1061.37" cy="525.96" r="0.75" fill="#2e2e2e"/>
<path d="M1057.67 535.16l0 2.7l2.4 -1.35z" fill="#2e2e2e"/>
<circle cx="1061.37" cy="538.56" r="0.75" fill="#2e2e2e"/>
<path d="M1057.67 547.76l0 2.7l2.4 -1.35z" fill="#2e2e2e"/>
<circle cx="1061.37" cy="551.16" r="0.75" fill="#2e2e2e"/>
<path d="M1057.67 560.36l0 2.7l2.4 -1.35z" fill="#2e2e2e"/>
<circle cx="1061.37" cy="563.76" r="0.75" fill="#2e2e2e"/>
<path d="M804.27 580.1l2.7 0l-1.35 -2.4z" fill="#2e2e2e"/>
<circle cx="808.67" cy="576.5" r="0.75" fill="#2e2e2e"/>
<path d="M816.87 580.12l2.7 0l-1.35 -2.4z" fill="#2e2e2e"/>
<circle cx="821.27" cy="576.52" r="0.75" fill="#2e2e2e"/>
<path d="M829.47 580.13l2.7 0l-1.35 -2.4z" fill="#2e2e2e"/>
<circle cx="833.87" cy="576.53" r="0.75" fill="#2e2e2e"/>
<path d="M842.07 580.15l2.7 0l-1.35 -2.4z" fill="#2e2e2e"/>
<circle cx="846.47" cy="576.55" r="0.75" fill="#2e2e2e"/>
<path d="M854.67 580.17l2.7 0l-1.35 -2.4z" fill="#2e2e2e"/>
<circle cx="859.07" cy="576.57" r="0.75" fill="#2e2e2e"/>
<path d="M867.27 580.19l2.7 0l-1.35 -2.4z" fill="#2e2e2e"/>
<circle cx="871.67" cy="576.59" r="0.75" fill="#2e2e2e"/>
<path d="M879.87 580.21l2.7 0l-1.35 -2.4z" fill="#2e2e2e"/>
<circle cx="884.27" cy="576.61" r="0.75" fill="#2e2e2e"/>
<path d="M892.47 580.23l2.7 0l-1.35 -2.4z" fill="#2e2e2e"/>
<circle cx="896.87" cy="576.63" r="0.75" fill="#2e2e2e"/>
<path d="M905.07 580.25l2.7 0l-1.35 -2.4z" fill="#2e2e2e"/>
<circle cx="909.47" cy="576.65" r="0.75" fill="#2e2e2e"/>
<path d="M917.67 580.27l2.7 0l-1.35 -2.4z" fill="#2e2e2e"/>
<circle cx="922.07" cy="576.67" r="0.75" fill="#2e2e2e"/>
<path d="M930.27 580.29l2.7 0l-1.35 -2.4z" fill="#2e2e2e"/>
<circle cx="934.67" cy="576.69" r="0.75" fill="#2e2e2e"/>
<path d="M942.87 580.3l2.7 0l-1.35 -2.4z" fill="#2e2e2e"/>
<circle cx="947.27" cy="576.7" r="0.75" fill="#2e2e2e"/>
<path d="M955.47 580.32l2.7 0l-1.35 -2.4z" fill="#2e2e2e"/>
<circle cx="959.87" cy="576.72" r="0.75" fill="#2e2e2e"/>
<path d="M968.07 580.34l2.7 0l-1.35 -2.4z" fill="#2e2e2e"/>
<circle cx="972.47" cy="576.74" r="0.75" fill="#2e2e2e"/>
<path d="M980.67 580.36l2.7 0l-1.35 -2.4z" fill="#2e2e2e"/>
<circle cx="985.07" cy="576.76" r="0.75" fill="#2e2e2e"/>
<path d="M993.27 580.38l2.7 0l-1.35 -2.4z" fill="#2e2e2e"/>
<circle cx="997.67" cy="576.78" r="0.75" fill="#2e2e2e"/>
<path d="M1005.87 580.4l2.7 0l-1.35 -2.4z" fill="#2e2e2e"/>
<circle cx="1010.27" cy="576.8" r="0.75" fill="#2e2e2e"/>
<path d="M1018.47 580.42l2.7 0l-1.35 -2.4z" fill="#2e2e2e"/>
<circle cx="1022.87" cy="576.82" r="0.75" fill="#2e2e2e"/>
<path d="M1031.07 580.44l2.7 0l-1.35 -2.4z" fill="#2e2e2e"/>
<circle cx="1035.47" cy="576.84" r="0.75" fill="#2e2e2e"/>
<path d="M1043.67 580.46l2.7 0l-1.35 -2.4z" fill="#2e2e2e"/>
<circle cx="1048.07" cy="576.86" r="0.75" fill="#2e2e2e"/>
<path d="M714.58 584.09l2.7 0l-1.35 -2.4z" fill="#2e2e2e"/>
<circle cx="718.98" cy="580.49" r="0.75" fill="#2e2e2e"/>
<path d="M727.18 584.11l2.7 0l-1.35 -2.4z" fill="#2e2e2e"/>
<circle cx="731.58" cy="580.51" r="0.75" fill="#2e2e2e"/>
<path d="M739.78 584.13l2.7 0l-1.35 -2.4z" fill="#2e2e2e"/>
<circle cx="744.18" cy="580.53" r="0.75" fill="#2e2e2e"/>
<path d="M752.38 584.15l2.7 0l-1.35 -2.4z" fill="#2e2e2e"/>
<circle cx="756.78" cy="580.55" r="0.75" fill="#2e2e2e"/>
<path d="M764.98 584.17l2.7 0l-1.35 -2.4z" fill="#2e2e2e"/>
<circle cx="769.38" cy="580.57" r="0.75" fill="#2e2e2e"/>
<path d="M777.58 584.19l2.7 0l-1.35 -2.4z" fill="#2e2e2e"/>
<circle cx="781.98" cy="580.59" r="0.75" fill="#2e2e2e"/>
<path d="M712.09 593.29l0 2.7l2.4 -1.35z" fill="#2e2e2e"/>
<circle cx="715.79" cy="596.69" r="0.75" fill="#2e2e2e"/>
<path d="M712.09 605.89l0 2.7l2.4 -1.35z" fill="#2e2e2e"/>
<circle cx="715.79" cy="609.29" r="0.75" fill="#2e2e2e"/>
<path d="M712.09 618.49l0 2.7l2.4 -1.35z" fill="#2e2e2e"/>
<circle cx="715.79" cy="621.89" r="0.75" fill="#2e2e2e"/>
<path d="M582.93 633.46l2.7 0l-1.35 -2.4z" fill="#2e2e2e"/>
<circle cx="587.33" cy="629.86" r="0.75" fill="#2e2e2e"/>
<path d="M595.53 633.48l2.7 0l-1.35 -2.4z" fill="#2e2e2e"/>
<circle cx="599.93" cy="629.88" r="0.75" fill="#2e2e2e"/>
<path d="M608.13 633.5l2.7 0l-1.35 -2.4z" fill="#2e2e2e"/>
<circle cx="612.53" cy="629.9" r="0.75" fill="#2e2e2e"/>
<path d="M620.73 633.52l2.7 0l-1.35 -2.4z" fill="#2e2e2e"/>
<circle cx="625.13" cy="629.92" r="0.75" fill="#2e2e2e"/>
<path d="M633.33 633.54l2.7 0l-1.35 -2.4z" fill="#2e2e2e"/>
<circle cx="637.73" cy="629.94" r="0.75" fill="#2e2e2e"/>
<path d="M645.93 633.56l2.7 0l-1.35 -2.4z" fill="#2e2e2e"/>
<circle cx="650.33" cy="629.96" r="0.75" fill="#2e2e2e"/>
<path d="M658.53 633.58l2.7 0l-1.35 -2.4z" fill="#2e2e2e"/>
<circle cx="662.93" cy="629.98" r="0.75" fill="#2e2e2e"/>
<path d="M671.13 633.6l2.7 0l-1.35 -2.4z" fill="#2e2e2e"/>
<circle cx="675.53" cy="630" r="0.75" fill="#2e2e2e"/>
<path d="M683.73 633.61l2.7 0l-1.35 -2.4z" fill="#2e2e2e"/>
<circle cx="688.13" cy="630.01" r="0.75" fill="#2e2e2e"/>
<path d="M696.33 633.63l2.7 0l-1.35 -2.4z" fill="#2e2e2e"/>
<circle cx="700.73" cy="630.03" r="0.75" fill="#2e2e2e"/>
<path d="M708.93 633.65l2.7 0l-1.35 -2.4z" fill="#2e2e2e"/>
<circle cx="713.33" cy="630.05" r="0.75" fill="#2e2e2e"/>
<path d="M432.77 629.11l2.7 0l-1.35 -2.4z" fill="#2e2e2e"/>
<circle cx="437.17" cy="625.51" r="0.75" fill="#2e2e2e"/>
<path d="M445.37 629.13l2.7 0l-1.35 -2.4z" fill="#2e2e2e"/>
<circle cx="449.77" cy="625.53" r="0.75" fill="#2e2e2e"/>
<path d="M457.97 629.15l2.7 0l-1.35 -2.4z" fill="#2e2e2e"/>
<circle cx="462.37" cy="625.55" r="0.75" fill="#2e2e2e"/>
<path d="M470.57 629.16l2.7 0l-1.35 -2.4z" fill="#2e2e2e"/>
<circle cx="474.97" cy="625.56" r="0.75" fill="#2e2e2e"/>
<path d="M483.17 629.18l2.7 0l-1.35 -2.4z" fill="#2e2e2e"/>
<circle cx="487.57" cy="625.58" r="0.75" fill="#2e2e2e"/>
<path d="M495.77 629.2l2.7 0l-1.35 -2.4z" fill="#2e2e2e"/>
<circle cx="500.17" cy="625.6" r="0.75" fill="#2e2e2e"/>
<path d="M508.37 629.22l2.7 0l-1.35 -2.4z" fill="#2e2e2e"/>
<circle cx="512.77" cy="625.62" r="0.75" fill="#2e2e2e"/>
<path d="M520.97 629.24l2.7 0l-1.35 -2.4z" fill="#2e2e2e"/>
<circle cx="525.37" cy="625.64" r="0.75" fill="#2e2e2e"/>
<path d="M533.57 629.26l2.7 0l-1.35 -2.4z" fill="#2e2e2e"/>
<circle cx="537.97" cy="625.66" r="0.75" fill="#2e2e2e"/>
<path d="M546.17 629.28l2.7 0l-1.35 -2.4z" fill="#2e2e2e"/>
<circle cx="550.57" cy="625.68" r="0.75" fill="#2e2e2e"/>
<path d="M558.77 629.3l2.7 0l-1.35 -2.4z" fill="#2e2e2e"/>
<circle cx="563.17" cy="625.7" r="0.75" fill="#2e2e2e"/>
<path d="M424.11 353.69l0 2.7l2.4 -1.35z" fill="#2e2e2e"/>
<circle cx="427.81" cy="357.09" r="0.75" fill="#2e2e2e"/>
<path d="M424.11 366.29l0 2.7l2.4 -1.35z" fill="#2e2e2e"/>
<circle cx="427.81" cy="369.69" r="0.75" fill="#2e2e2e"/>
<path d="M424.11 378.89l0 2.7l2.4 -1.35z" fill="#2e2e2e"/>
<circle cx="427.81" cy="382.29" r="0.75" fill="#2e2e2e"/>
<path d="M424.11 391.49l0 2.7l2.4 -1.35z" fill="#2e2e2e"/>
<circle cx="427.81" cy="394.89" r="0.75" fill="#2e2e2e"/>
<path d="M424.11 404.09l0 2.7l2.4 -1.35z" fill="#2e2e2e"/>
<circle cx="427.81" cy="407.49" r="0.75" fill="#2e2e2e"/>
<path d="M424.11 416.69l0 2.7l2.4 -1.35z" fill="#2e2e2e"/>
<circle cx="427.81" cy="420.09" r="0.75" fill="#2e2e2e"/>
<path d="M424.11 429.29l0 2.7l2.4 -1.35z" fill="#2e2e2e"/>
<circle cx="427.81" cy="432.69" r="0.75" fill="#2e2e2e"/>
<path d="M424.11 441.89l0 2.7l2.4 -1.35z" fill="#2e2e2e"/>
<circle cx="427.81" cy="445.29" r="0.75" fill="#2e2e2e"/>
<path d="M424.11 454.49l0 2.7l2.4 -1.35z" fill="#2e2e2e"/>
<circle cx="427.81" cy="457.89" r="0.75" fill="#2e2e2e"/>
<path d="M424.11 467.09l0 2.7l2.4 -1.35z" fill="#2e2e2e"/>
<circle cx="427.81" cy="470.49" r="0.75" fill="#2e2e2e"/>
<path d="M424.11 479.69l0 2.7l2.4 -1.35z" fill="#2e2e2e"/>
<circle cx="427.81" cy="483.09" r="0.75" fill="#2e2e2e"/>
<path d="M424.11 492.29l0 2.7l2.4 -1.35z" fill="#2e2e2e"/>
<circle cx="427.81" cy="495.69" r="0.75" fill="#2e2e2e"/>
<path d="M424.11 504.89l0 2.7l2.4 -1.35z" fill="#2e2e2e"/>
<circle cx="427.81" cy="508.29" r="0.75" fill="#2e2e2e"/>
<path d="M424.11 577.98l0 2.7l2.4 -1.35z" fill="#2e2e2e"/>
<circle cx="427.81" cy="581.38" r="0.75" fill="#2e2e2e"/>
<path d="M424.11 590.58l0 2.7l2.4 -1.35z" fill="#2e2e2e"/>
<circle cx="427.81" cy="593.98" r="0.75" fill="#2e2e2e"/>
<path d="M424.11 603.18l0 2.7l2.4 -1.35z" fill="#2e2e2e"/>
<circle cx="427.81" cy="606.58" r="0.75" fill="#2e2e2e"/>
<path d="M424.11 615.78l0 2.7l2.4 -1.35z" fill="#2e2e2e"/>
<circle cx="427.81" cy="619.18" r="0.75" fill="#2e2e2e"/>
<path d="M572.22 643.88l0 2.7l2.4 -1.35z" fill="#2e2e2e"/>
<circle cx="575.92" cy="647.28" r="0.75" fill="#2e2e2e"/>
<path d="M572.22 656.48l0 2.7l2.4 -1.35z" fill="#2e2e2e"/>
<circle cx="575.92" cy="659.88" r="0.75" fill="#2e2e2e"/>
<path d="M572.22 669.08l0 2.7l2.4 -1.35z" fill="#2e2e2e"/>
<circle cx="575.92" cy="672.48" r="0.75" fill="#2e2e2e"/>
<path d="M572.22 681.68l0 2.7l2.4 -1.35z" fill="#2e2e2e"/>
<circle cx="575.92" cy="685.08" r="0.75" fill="#2e2e2e"/>
<path d="M572.22 694.28l0 2.7l2.4 -1.35z" fill="#2e2e2e"/>
<circle cx="575.92" cy="697.68" r="0.75" fill="#2e2e2e"/>
<path d="M577.17 703.68l2.7 0l-1.35 -2.4z" fill="#2e2e2e"/>
<circle cx="581.57" cy="700.08" r="0.75" fill="#2e2e2e"/>
<path d="M589.77 703.7l2.7 0l-1.35 -2.4z" fill="#2e2e2e"/>
<circle cx="594.17" cy="700.1" r="0.75" fill="#2e2e2e"/>
<path d="M602.37 703.71l2.7 0l-1.35 -2.4z" fill="#2e2e2e"/>
<circle cx="606.77" cy="700.11" r="0.75" fill="#2e2e2e"/>
<path d="M614.97 703.73l2.7 0l-1.35 -2.4z" fill="#2e2e2e"/>
<circle cx="619.37" cy="700.13" r="0.75" fill="#2e2e2e"/>
<path d="M627.57 703.75l2.7 0l-1.35 -2.4z" fill="#2e2e2e"/>
<circle cx="631.97" cy="700.15" r="0.75" fill="#2e2e2e"/>
<path d="M640.17 703.77l2.7 0l-1.35 -2.4z" fill="#2e2e2e"/>
<circle cx="644.57" cy="700.17" r="0.75" fill="#2e2e2e"/>
<path d="M652.77 703.79l2.7 0l-1.35 -2.4z" fill="#2e2e2e"/>
<circle cx="657.17" cy="700.19" r="0.75" fill="#2e2e2e"/>
<path d="M665.37 703.81l2.7 0l-1.35 -2.4z" fill="#2e2e2e"/>
<circle cx="669.77" cy="700.21" r="0.75" fill="#2e2e2e"/>
<path d="M677.97 703.83l2.7 0l-1.35 -2.4z" fill="#2e2e2e"/>
<circle cx="682.37" cy="700.23" r="0.75" fill="#2e2e2e"/>
<path d="M690.57 703.85l2.7 0l-1.35 -2.4z" fill="#2e2e2e"/>
<circle cx="694.97" cy="700.25" r="0.75" fill="#2e2e2e"/>
<path d="M703.17 703.87l2.7 0l-1.35 -2.4z" fill="#2e2e2e"/>
<circle cx="707.57" cy="700.27" r="0.75" fill="#2e2e2e"/>
<path d="M715.77 703.88l2.7 0l-1.35 -2.4z" fill="#2e2e2e"/>
<circle cx="720.17" cy="700.28" r="0.75" fill="#2e2e2e"/>
<path d="M728.37 703.9l2.7 0l-1.35 -2.4z" fill="#2e2e2e"/>
<circle cx="732.77" cy="700.3" r="0.75" fill="#2e2e2e"/>
<path d="M740.97 703.92l2.7 0l-1.35 -2.4z" fill="#2e2e2e"/>
<circle cx="745.37" cy="700.32" r="0.75" fill="#2e2e2e"/>
<path d="M753.57 703.94l2.7 0l-1.35 -2.4z" fill="#2e2e2e"/>
<circle cx="757.97" cy="700.34" r="0.75" fill="#2e2e2e"/>
<path d="M766.17 703.96l2.7 0l-1.35 -2.4z" fill="#2e2e2e"/>
<circle cx="770.57" cy="700.36" r="0.75" fill="#2e2e2e"/>
<path d="M778.77 703.98l2.7 0l-1.35 -2.4z" fill="#2e2e2e"/>
<circle cx="783.17" cy="700.38" r="0.75" fill="#2e2e2e"/>
<path d="M794.37 593.41l0 2.7l2.4 -1.35z" fill="#2e2e2e"/>
<circle cx="798.07" cy="596.81" r="0.75" fill="#2e2e2e"/>
<path d="M794.37 606.01l0 2.7l2.4 -1.35z" fill="#2e2e2e"/>
<circle cx="798.07" cy="609.41" r="0.75" fill="#2e2e2e"/>
<path d="M794.37 618.61l0 2.7l2.4 -1.35z" fill="#2e2e2e"/>
<circle cx="798.07" cy="622.01" r="0.75" fill="#2e2e2e"/>
<path d="M794.37 631.21l0 2.7l2.4 -1.35z" fill="#2e2e2e"/>
<circle cx="798.07" cy="634.61" r="0.75" fill="#2e2e2e"/>
<path d="M794.37 643.81l0 2.7l2.4 -1.35z" fill="#2e2e2e"/>
<circle cx="798.07" cy="647.21" r="0.75" fill="#2e2e2e"/>
<path d="M794.37 656.41l0 2.7l2.4 -1.35z" fill="#2e2e2e"/>
<circle cx="798.07" cy="659.81" r="0.75" fill="#2e2e2e"/>
<path d="M794.37 669.01l0 2.7l2.4 -1.35z" fill="#2e2e2e"/>
<circle cx="798.07" cy="672.41" r="0.75" fill="#2e2e2e"/>
<path d="M794.37 681.61l0 2.7l2.4 -1.35z" fill="#2e2e2e"/>
<circle cx="798.07" cy="685.01" r="0.75" fill="#2e2e2e"/>
<path d="M794.37 694.21l0 2.7l2.4 -1.35z" fill="#2e2e2e"/>
<circle cx="798.07" cy="697.61" r="0.75" fill="#2e2e2e"/>
<path d="M794.37 706.81l0 2.7l2.4 -1.35z" fill="#2e2e2e"/>
<circle cx="798.07" cy="710.21" r="0.75" fill="#2e2e2e"/>
<path d="M794.37 719.41l0 2.7l2.4 -1.35z" fill="#2e2e2e"/>
<circle cx="798.07" cy="722.81" r="0.75" fill="#2e2e2e"/>
<path d="M794.37 732.01l0 2.7l2.4 -1.35z" fill="#2e2e2e"/>
<circle cx="798.07" cy="735.41" r="0.75" fill="#2e2e2e"/>
<path d="M794.37 744.61l0 2.7l2.4 -1.35z" fill="#2e2e2e"/>
<circle cx="798.07" cy="748.01" r="0.75" fill="#2e2e2e"/>
<path d="M794.37 757.21l0 2.7l2.4 -1.35z" fill="#2e2e2e"/>
<circle cx="798.07" cy="760.61" r="0.75" fill="#2e2e2e"/>
<path d="M794.37 769.81l0 2.7l2.4 -1.35z" fill="#2e2e2e"/>
<circle cx="798.07" cy="773.21" r="0.75" fill="#2e2e2e"/>
<path d="M794.37 782.41l0 2.7l2.4 -1.35z" fill="#2e2e2e"/>
<circle cx="798.07" cy="785.81" r="0.75" fill="#2e2e2e"/>
<path d="M794.37 795.01l0 2.7l2.4 -1.35z" fill="#2e2e2e"/>
<circle cx="798.07" cy="798.41" r="0.75" fill="#2e2e2e"/>
<path d="M794.37 807.61l0 2.7l2.4 -1.35z" fill="#2e2e2e"/>
<circle cx="798.07" cy="811.01" r="0.75" fill="#2e2e2e"/>
<path d="M794.37 820.21l0 2.7l2.4 -1.35z" fill="#2e2e2e"/>
<circle cx="798.07" cy="823.61" r="0.75" fill="#2e2e2e"/>
<path d="M794.37 832.81l0 2.7l2.4 -1.35z" fill="#2e2e2e"/>
<circle cx="798.07" cy="836.21" r="0.75" fill="#2e2e2e"/>
<path d="M794.37 845.41l0 2.7l2.4 -1.35z" fill="#2e2e2e"/>
<circle cx="798.07" cy="848.81" r="0.75" fill="#2e2e2e"/>
<path d="M794.37 858.01l0 2.7l2.4 -1.35z" fill="#2e2e2e"/>
<circle cx="798.07" cy="861.41" r="0.75" fill="#2e2e2e"/>
<path d="M794.37 870.61l0 2.7l2.4 -1.35z" fill="#2e2e2e"/>
<circle cx="798.07" cy="874.01" r="0.75" fill="#2e2e2e"/>
<path d="M794.37 883.21l0 2.7l2.4 -1.35z" fill="#2e2e2e"/>
<circle cx="798.07" cy="886.61" r="0.75" fill="#2e2e2e"/>
<path d="M1073.32 204.61l2.7 0l-1.35 -2.4z" fill="#2e2e2e"/>
<circle cx="1077.72" cy="201.01" r="0.75" fill="#2e2e2e"/>
<path d="M1085.92 204.63l2.7 0l-1.35 -2.4z" fill="#2e2e2e"/>
<circle cx="1090.32" cy="201.03" r="0.75" fill="#2e2e2e"/>
<path d="M1202.91 204.8l2.7 0l-1.35 -2.4z" fill="#2e2e2e"/>
<circle cx="1207.31" cy="201.2" r="0.75" fill="#2e2e2e"/>
<path d="M1215.51 204.82l2.7 0l-1.35 -2.4z" fill="#2e2e2e"/>
<circle cx="1219.91" cy="201.22" r="0.75" fill="#2e2e2e"/>
<path d="M1093.07 877.94l2.7 0l-1.35 -2.4z" fill="#2e2e2e"/>
<circle cx="1097.47" cy="874.34" r="0.75" fill="#2e2e2e"/>
<path d="M1223.46 877l0 2.7l2.4 -1.35z" fill="#2e2e2e"/>
<circle cx="1227.16" cy="880.4" r="0.75" fill="#2e2e2e"/>
<path d="M1082.35 887.53l0 2.7l2.4 -1.35z" fill="#2e2e2e"/>
<circle cx="1086.05" cy="890.93" r="0.75" fill="#2e2e2e"/>
<path d="M1082.35 900.13l0 2.7l2.4 -1.35z" fill="#2e2e2e"/>
<circle cx="1086.05" cy="903.53" r="0.75" fill="#2e2e2e"/>
<polygon points="420.6,196.2 478.91,196.29 478.91,203.39 420.6,203.3" fill="#7d7d7d" stroke="none" stroke-width="0"/>
<line x1="420.6" y1="196.2" x2="478.91" y2="196.29" stroke="#3c3c3c" stroke-width="1"/>
<line x1="420.6" y1="203.3" x2="478.91" y2="203.39" stroke="#3c3c3c" stroke-width="1"/>
<polygon points="552.91,196.4 657.35,196.55 657.35,203.65 552.91,203.5" fill="#7d7d7d" stroke="none" stroke-width="0"/>
<line x1="552.91" y1="196.4" x2="657.35" y2="196.55" stroke="#3c3c3c" stroke-width="1"/>
<line x1="552.91" y1="203.5" x2="657.35" y2="203.65" stroke="#3c3c3c" stroke-width="1"/>
<polygon points="731.35,196.66 791.31,196.75 791.31,203.85 731.35,203.76" fill="#7d7d7d" stroke="none" stroke-width="0"/>
<line x1="731.35" y1="196.66" x2="791.31" y2="196.75" stroke="#3c3c3c" stroke-width="1"/>
<line x1="731.35" y1="203.76" x2="791.31" y2="203.85" stroke="#3c3c3c" stroke-width="1"/>
<polygon points="865.31,196.87 925.28,196.96 925.28,204.06 865.31,203.97" fill="#7d7d7d" stroke="none" stroke-width="0"/>
<line x1="865.31" y1="196.87" x2="925.28" y2="196.96" stroke="#3c3c3c" stroke-width="1"/>
<line x1="865.31" y1="203.97" x2="925.28" y2="204.06" stroke="#3c3c3c" stroke-width="1"/>
<polygon points="999.28,197.07 1059.4,197.16 1059.4,204.26 999.28,204.17" fill="#7d7d7d" stroke="none" stroke-width="0"/>
<line x1="999.28" y1="197.07" x2="1059.4" y2="197.16" stroke="#3c3c3c" stroke-width="1"/>
<line x1="999.28" y1="204.17" x2="1059.4" y2="204.26" stroke="#3c3c3c" stroke-width="1"/>
<line x1="475.71" y1="194.99" x2="556.11" y2="195.11" stroke="#555" stroke-width="0.7"/>
<line x1="475.71" y1="194.99" x2="475.71" y2="197.09" stroke="#555" stroke-width="0.7"/>
<line x1="556.11" y1="195.1" x2="556.11" y2="197.2" stroke="#555" stroke-width="0.7"/>
<line x1="478.91" y1="197.99" x2="552.91" y2="198.1" stroke="#555" stroke-width="0.7"/>
<line x1="478.91" y1="199.69" x2="552.91" y2="199.8" stroke="#555" stroke-width="0.7"/>
<line x1="478.91" y1="201.69" x2="552.91" y2="201.8" stroke="#555" stroke-width="0.7"/>
<line x1="478.91" y1="203.49" x2="552.91" y2="203.6" stroke="#555" stroke-width="0.7"/>
<line x1="481.91" y1="197.99" x2="481.91" y2="203.49" stroke="#555" stroke-width="0.7"/>
<line x1="549.91" y1="198.1" x2="549.91" y2="203.6" stroke="#555" stroke-width="0.7"/>
<circle cx="515.91" cy="200.74" r="1.3" fill="none" stroke="#444" stroke-width="0.6"/>
<line x1="654.15" y1="195.25" x2="734.55" y2="195.37" stroke="#555" stroke-width="0.7"/>
<line x1="654.15" y1="195.25" x2="654.15" y2="197.35" stroke="#555" stroke-width="0.7"/>
<line x1="734.55" y1="195.36" x2="734.55" y2="197.46" stroke="#555" stroke-width="0.7"/>
<line x1="657.35" y1="198.25" x2="731.35" y2="198.36" stroke="#555" stroke-width="0.7"/>
<line x1="657.35" y1="199.95" x2="731.35" y2="200.06" stroke="#555" stroke-width="0.7"/>
<line x1="657.35" y1="201.95" x2="731.35" y2="202.06" stroke="#555" stroke-width="0.7"/>
<line x1="657.35" y1="203.75" x2="731.35" y2="203.86" stroke="#555" stroke-width="0.7"/>
<line x1="660.35" y1="198.25" x2="660.35" y2="203.75" stroke="#555" stroke-width="0.7"/>
<line x1="728.35" y1="198.36" x2="728.35" y2="203.86" stroke="#555" stroke-width="0.7"/>
<circle cx="694.35" cy="201.01" r="1.3" fill="none" stroke="#444" stroke-width="0.6"/>
<line x1="791.31" y1="195.85" x2="865.31" y2="195.97" stroke="#555" stroke-width="0.7"/>
<line x1="791.31" y1="201.15" x2="830.31" y2="201.21" stroke="#444" stroke-width="1"/>
<line x1="826.31" y1="202.21" x2="865.31" y2="202.27" stroke="#444" stroke-width="1"/>
<line x1="922.08" y1="195.66" x2="1002.48" y2="195.78" stroke="#555" stroke-width="0.7"/>
<line x1="922.08" y1="195.66" x2="922.08" y2="197.76" stroke="#555" stroke-width="0.7"/>
<line x1="1002.48" y1="195.77" x2="1002.48" y2="197.87" stroke="#555" stroke-width="0.7"/>
<line x1="925.28" y1="198.66" x2="999.28" y2="198.77" stroke="#555" stroke-width="0.7"/>
<line x1="925.28" y1="200.36" x2="999.28" y2="200.47" stroke="#555" stroke-width="0.7"/>
<line x1="925.28" y1="202.36" x2="999.28" y2="202.47" stroke="#555" stroke-width="0.7"/>
<line x1="925.28" y1="204.16" x2="999.28" y2="204.27" stroke="#555" stroke-width="0.7"/>
<line x1="928.28" y1="198.66" x2="928.28" y2="204.16" stroke="#555" stroke-width="0.7"/>
<line x1="996.28" y1="198.77" x2="996.28" y2="204.27" stroke="#555" stroke-width="0.7"/>
<circle cx="962.28" cy="201.41" r="1.3" fill="none" stroke="#444" stroke-width="0.6"/>
<rect x="420.9" y="196.3" width="6.6" height="150.5" fill="#858585" stroke="none" stroke-width="0"/>
<line x1="420.9" y1="196.3" x2="420.9" y2="346.8" stroke="#3c3c3c" stroke-width="0.8"/>
<line x1="427.5" y1="196.3" x2="427.5" y2="346.8" stroke="#3c3c3c" stroke-width="0.8"/>
<line x1="417.5" y1="346.8" x2="433.8" y2="346.8" stroke="#2a2a2a" stroke-width="1.6"/>
<rect x="430.5" y="203.02" width="4.1" height="307.2" fill="#858585" stroke="none" stroke-width="0"/>
<line x1="430.5" y1="203.02" x2="430.5" y2="510.22" stroke="#3c3c3c" stroke-width="0.8"/>
<line x1="434.6" y1="203.02" x2="434.6" y2="510.22" stroke="#3c3c3c" stroke-width="0.8"/>
<line x1="430.7" y1="203" x2="430.7" y2="510.2" stroke="#2c2c2c" stroke-width="0.9" stroke-dasharray="7 1.2"/>
<rect x="430.5" y="572.02" width="4.1" height="51.8" fill="#858585" stroke="none" stroke-width="0"/>
<line x1="430.5" y1="572.02" x2="430.5" y2="623.82" stroke="#3c3c3c" stroke-width="0.8"/>
<line x1="434.6" y1="572.02" x2="434.6" y2="623.82" stroke="#3c3c3c" stroke-width="0.8"/>
<line x1="430.7" y1="572" x2="430.7" y2="623.8" stroke="#2c2c2c" stroke-width="0.9" stroke-dasharray="7 1.2"/>
<line x1="421.7" y1="510.9" x2="421.7" y2="571.9" stroke="#555" stroke-width="0.7"/>
<line x1="424.4" y1="510.9" x2="424.4" y2="571.9" stroke="#555" stroke-width="0.7"/>
<line x1="427.2" y1="510.9" x2="427.2" y2="571.9" stroke="#555" stroke-width="0.7"/>
<line x1="430" y1="510.9" x2="430" y2="571.9" stroke="#555" stroke-width="0.7"/>
<line x1="421.7" y1="510.9" x2="434.6" y2="510.92" stroke="#555" stroke-width="0.7"/>
<line x1="421.7" y1="571.9" x2="434.6" y2="571.92" stroke="#555" stroke-width="0.7"/>
<circle cx="425.9" cy="541.2" r="1.3" fill="none" stroke="#444" stroke-width="0.6"/>
<polygon points="430.2,618.81 599.5,619.07 599.5,624.07 430.2,623.81" fill="#7a7a7a" stroke="none" stroke-width="0"/>
<line x1="430.2" y1="618.81" x2="599.5" y2="619.07" stroke="#3c3c3c" stroke-width="1"/>
<line x1="430.2" y1="623.81" x2="599.5" y2="624.07" stroke="#3c3c3c" stroke-width="1"/>
<rect x="1055.65" y="203.55" width="3.6" height="190.8" fill="#7a7a7a" stroke="none" stroke-width="0"/>
<line x1="1055.65" y1="203.55" x2="1055.65" y2="394.35" stroke="#3c3c3c" stroke-width="1"/>
<line x1="1059.25" y1="203.55" x2="1059.25" y2="394.35" stroke="#3c3c3c" stroke-width="1"/>
<rect x="1051.05" y="394.15" width="3.5" height="36.2" fill="#7a7a7a" stroke="none" stroke-width="0"/>
<line x1="1051.05" y1="394.15" x2="1051.05" y2="430.35" stroke="#3c3c3c" stroke-width="1"/>
<line x1="1054.55" y1="394.15" x2="1054.55" y2="430.35" stroke="#3c3c3c" stroke-width="1"/>
<line x1="1051.1" y1="394.1" x2="1059.2" y2="394.1" stroke="#3c3c3c" stroke-width="1"/>
<rect x="597.8" y="203.67" width="3.7" height="168.4" fill="#8e8e8e" stroke="none" stroke-width="0"/>
<line x1="597.8" y1="203.67" x2="597.8" y2="372.07" stroke="#3c3c3c" stroke-width="0.8"/>
<line x1="601.5" y1="203.67" x2="601.5" y2="372.07" stroke="#3c3c3c" stroke-width="0.8"/>
<line x1="597.5" y1="372" x2="597.5" y2="409.4" stroke="#444" stroke-width="0.7" stroke-dasharray="4 2.6"/>
<line x1="601.6" y1="372" x2="601.6" y2="409.4" stroke="#444" stroke-width="0.7" stroke-dasharray="4 2.6"/>
<rect x="597.8" y="417.27" width="3.7" height="83.3" fill="#8e8e8e" stroke="none" stroke-width="0"/>
<line x1="597.8" y1="417.27" x2="597.8" y2="500.57" stroke="#3c3c3c" stroke-width="0.8"/>
<line x1="601.5" y1="417.27" x2="601.5" y2="500.57" stroke="#3c3c3c" stroke-width="0.8"/>
<rect x="597.8" y="565.57" width="3.7" height="61.7" fill="#8e8e8e" stroke="none" stroke-width="0"/>
<line x1="597.8" y1="565.57" x2="597.8" y2="627.27" stroke="#3c3c3c" stroke-width="0.8"/>
<line x1="601.5" y1="565.57" x2="601.5" y2="627.27" stroke="#3c3c3c" stroke-width="0.8"/>
<polygon points="601.4,493.57 631.1,493.61 631.1,497.31 601.4,497.27" fill="#8e8e8e" stroke="none" stroke-width="0"/>
<line x1="601.4" y1="493.57" x2="631.1" y2="493.61" stroke="#3c3c3c" stroke-width="0.8"/>
<line x1="601.4" y1="497.27" x2="631.1" y2="497.31" stroke="#3c3c3c" stroke-width="0.8"/>
<polygon points="601.4,570.07 631.1,570.11 631.1,573.81 601.4,573.77" fill="#8e8e8e" stroke="none" stroke-width="0"/>
<line x1="601.4" y1="570.07" x2="631.1" y2="570.11" stroke="#3c3c3c" stroke-width="0.8"/>
<line x1="601.4" y1="573.77" x2="631.1" y2="573.81" stroke="#3c3c3c" stroke-width="0.8"/>
<rect x="627.35" y="493.61" width="3.7" height="80.2" fill="#8e8e8e" stroke="none" stroke-width="0"/>
<line x1="627.35" y1="493.61" x2="627.35" y2="573.81" stroke="#3c3c3c" stroke-width="0.8"/>
<line x1="631.05" y1="493.61" x2="631.05" y2="573.81" stroke="#3c3c3c" stroke-width="0.8"/>
<polyline points="599,501.7 587.3,511.7 597.6,522.6" fill="none" stroke="#333" stroke-width="1"/>
<polyline points="597.6,544.3 587.3,553.5 599,564.4" fill="none" stroke="#333" stroke-width="1"/>
<polygon points="434.6,390.42 520.6,390.55 520.6,394.25 434.6,394.12" fill="#8e8e8e" stroke="none" stroke-width="0"/>
<line x1="434.6" y1="390.42" x2="520.6" y2="390.55" stroke="#3c3c3c" stroke-width="0.8"/>
<line x1="434.6" y1="394.12" x2="520.6" y2="394.25" stroke="#3c3c3c" stroke-width="0.8"/>
<rect x="512.05" y="362.64" width="3.7" height="29.8" fill="#8e8e8e" stroke="none" stroke-width="0"/>
<line x1="512.05" y1="362.64" x2="512.05" y2="392.44" stroke="#3c3c3c" stroke-width="0.8"/>
<line x1="515.75" y1="362.64" x2="515.75" y2="392.44" stroke="#3c3c3c" stroke-width="0.8"/>
<rect x="551.8" y="362.7" width="3.7" height="36.3" fill="#8e8e8e" stroke="none" stroke-width="0"/>
<line x1="551.8" y1="362.7" x2="551.8" y2="399" stroke="#3c3c3c" stroke-width="0.8"/>
<line x1="555.5" y1="362.7" x2="555.5" y2="399" stroke="#3c3c3c" stroke-width="0.8"/>
<polygon points="546.3,390.59 553.6,390.6 553.6,394.3 546.3,394.29" fill="#8e8e8e" stroke="none" stroke-width="0"/>
<line x1="546.3" y1="390.59" x2="553.6" y2="390.6" stroke="#3c3c3c" stroke-width="0.8"/>
<line x1="546.3" y1="394.29" x2="553.6" y2="394.3" stroke="#3c3c3c" stroke-width="0.8"/>
<rect x="551.8" y="430.5" width="3.7" height="28.9" fill="#8e8e8e" stroke="none" stroke-width="0"/>
<line x1="551.8" y1="430.5" x2="551.8" y2="459.4" stroke="#3c3c3c" stroke-width="0.8"/>
<line x1="555.5" y1="430.5" x2="555.5" y2="459.4" stroke="#3c3c3c" stroke-width="0.8"/>
<line x1="515.7" y1="375.2" x2="551.8" y2="375.2" stroke="#555" stroke-width="0.7"/>
<rect x="434.9" y="396" width="36.7" height="57.6" fill="none" stroke="#444" stroke-width="0.8"/>
<rect x="436.6" y="397.7" width="33.3" height="54.2" fill="none" stroke="#555" stroke-width="0.6"/>
<line x1="436.6" y1="397.7" x2="469.9" y2="451.9" stroke="#444" stroke-width="0.7"/>
<line x1="469.9" y1="397.7" x2="436.6" y2="451.9" stroke="#444" stroke-width="0.7"/>
<ellipse cx="494.8" cy="437.9" rx="7.1" ry="9.2" fill="none" stroke="#444" stroke-width="0.8"/>
<circle cx="494.8" cy="437.6" r="3.2" fill="none" stroke="#333" stroke-width="0.7"/>
<line x1="491.6" y1="437.6" x2="498" y2="437.6" stroke="#333" stroke-width="0.6"/>
<line x1="494.8" y1="434.4" x2="494.8" y2="440.8" stroke="#333" stroke-width="0.6"/>
<path d="M482.8 458 L482.8 450.5 Q483 449 485 449.2 L501.5 449.2 Q503 447.6 505 449.2 L506 458" fill="none" stroke="#666" stroke-width="0.7"/>
<rect x="513.4" y="438.4" width="38.4" height="20.4" fill="none" stroke="#555" stroke-width="0.7"/>
<ellipse cx="533" cy="447.4" rx="8" ry="5.6" fill="#fff" stroke="#444" stroke-width="0.8"/>
<line x1="529.6" y1="411.6" x2="548.8" y2="394" stroke="#2c2c2c" stroke-width="1.3"/>
<path d="M520.9 393.6 Q522 405.5 529.6 411.6" fill="none" stroke="#444" stroke-width="0.7"/>
<line x1="553" y1="398.6" x2="530.8" y2="421.1" stroke="#2c2c2c" stroke-width="1.3"/>
<path d="M530.8 421.1 Q540 429.5 553 430.3" fill="none" stroke="#444" stroke-width="0.7"/>
<line x1="433.6" y1="352.62" x2="607.2" y2="352.88" stroke="#444" stroke-width="0.7" stroke-dasharray="4.2 2.6"/>
<line x1="433.6" y1="369.32" x2="607.2" y2="369.58" stroke="#444" stroke-width="0.7" stroke-dasharray="4.2 2.6"/>
<line x1="433.6" y1="352.62" x2="433.6" y2="369.32" stroke="#444" stroke-width="0.7" stroke-dasharray="4.2 2.6"/>
<line x1="607.2" y1="352.88" x2="607.2" y2="369.58" stroke="#444" stroke-width="0.7" stroke-dasharray="4.2 2.6"/>
<line x1="433.6" y1="359.62" x2="438.66" y2="351.82" stroke="#2b2b2b" stroke-width="1.25"/>
<line x1="436.08" y1="370.12" x2="447.96" y2="351.84" stroke="#2b2b2b" stroke-width="1.25"/>
<line x1="445.38" y1="370.14" x2="457.26" y2="351.85" stroke="#2b2b2b" stroke-width="1.25"/>
<line x1="454.68" y1="370.15" x2="466.56" y2="351.87" stroke="#2b2b2b" stroke-width="1.25"/>
<line x1="463.98" y1="370.16" x2="475.86" y2="351.88" stroke="#2b2b2b" stroke-width="1.25"/>
<line x1="473.28" y1="370.18" x2="485.16" y2="351.89" stroke="#2b2b2b" stroke-width="1.25"/>
<line x1="482.58" y1="370.19" x2="494.46" y2="351.91" stroke="#2b2b2b" stroke-width="1.25"/>
<line x1="491.88" y1="370.21" x2="503.76" y2="351.92" stroke="#2b2b2b" stroke-width="1.25"/>
<line x1="501.18" y1="370.22" x2="513.06" y2="351.94" stroke="#2b2b2b" stroke-width="1.25"/>
<line x1="510.48" y1="370.23" x2="522.36" y2="351.95" stroke="#2b2b2b" stroke-width="1.25"/>
<line x1="519.78" y1="370.25" x2="531.66" y2="351.96" stroke="#2b2b2b" stroke-width="1.25"/>
<line x1="529.08" y1="370.26" x2="540.96" y2="351.98" stroke="#2b2b2b" stroke-width="1.25"/>
<line x1="538.38" y1="370.28" x2="550.26" y2="351.99" stroke="#2b2b2b" stroke-width="1.25"/>
<line x1="547.68" y1="370.29" x2="559.56" y2="352.01" stroke="#2b2b2b" stroke-width="1.25"/>
<line x1="556.98" y1="370.3" x2="568.86" y2="352.02" stroke="#2b2b2b" stroke-width="1.25"/>
<line x1="566.28" y1="370.32" x2="578.16" y2="352.03" stroke="#2b2b2b" stroke-width="1.25"/>
<line x1="575.58" y1="370.33" x2="587.46" y2="352.05" stroke="#2b2b2b" stroke-width="1.25"/>
<line x1="584.88" y1="370.35" x2="596.76" y2="352.06" stroke="#2b2b2b" stroke-width="1.25"/>
<line x1="594.18" y1="370.36" x2="606.06" y2="352.08" stroke="#2b2b2b" stroke-width="1.25"/>
<line x1="603.48" y1="370.37" x2="607.2" y2="364.65" stroke="#2b2b2b" stroke-width="1.25"/>
<polygon points="434.6,359.62 442.6,359.63 442.6,362.83 434.6,362.82" fill="#3a3a3a" stroke="none" stroke-width="0"/>
<line x1="434.6" y1="359.62" x2="442.6" y2="359.63" stroke="#222" stroke-width="0.6"/>
<line x1="434.6" y1="362.82" x2="442.6" y2="362.83" stroke="#222" stroke-width="0.6"/>
<polygon points="505.3,359.73 561.4,359.81 561.4,363.01 505.3,362.93" fill="#3a3a3a" stroke="none" stroke-width="0"/>
<line x1="505.3" y1="359.73" x2="561.4" y2="359.81" stroke="#222" stroke-width="0.6"/>
<line x1="505.3" y1="362.93" x2="561.4" y2="363.01" stroke="#222" stroke-width="0.6"/>
<polygon points="592.3,359.86 597.9,359.86 597.9,363.06 592.3,363.06" fill="#3a3a3a" stroke="none" stroke-width="0"/>
<line x1="592.3" y1="359.86" x2="597.9" y2="359.86" stroke="#222" stroke-width="0.6"/>
<line x1="592.3" y1="363.06" x2="597.9" y2="363.06" stroke="#222" stroke-width="0.6"/>
<polyline points="442.6,361 452.9,349.2 463.3,361" fill="none" stroke="#333" stroke-width="1"/>
<polyline points="482.5,361 492.9,349.2 505.3,360.6" fill="none" stroke="#333" stroke-width="1"/>
<line x1="570.2" y1="337.9" x2="594.2" y2="361.3" stroke="#2b2b2b" stroke-width="1.2"/>
<path d="M570.2 337.9 Q562 345 560.6 358" fill="none" stroke="#444" stroke-width="0.7"/>
<line x1="433.6" y1="453.72" x2="607.2" y2="453.98" stroke="#444" stroke-width="0.7" stroke-dasharray="4.2 2.6"/>
<line x1="433.6" y1="470.12" x2="607.2" y2="470.38" stroke="#444" stroke-width="0.7" stroke-dasharray="4.2 2.6"/>
<line x1="433.6" y1="453.72" x2="433.6" y2="470.12" stroke="#444" stroke-width="0.7" stroke-dasharray="4.2 2.6"/>
<line x1="607.2" y1="453.98" x2="607.2" y2="470.38" stroke="#444" stroke-width="0.7" stroke-dasharray="4.2 2.6"/>
<line x1="433.6" y1="465.04" x2="441.47" y2="452.93" stroke="#2b2b2b" stroke-width="1.25"/>
<line x1="439.08" y1="470.93" x2="450.77" y2="452.94" stroke="#2b2b2b" stroke-width="1.25"/>
<line x1="448.38" y1="470.94" x2="460.07" y2="452.96" stroke="#2b2b2b" stroke-width="1.25"/>
<line x1="457.68" y1="470.95" x2="469.37" y2="452.97" stroke="#2b2b2b" stroke-width="1.25"/>
<line x1="466.98" y1="470.97" x2="478.67" y2="452.98" stroke="#2b2b2b" stroke-width="1.25"/>
<line x1="476.28" y1="470.98" x2="487.97" y2="453" stroke="#2b2b2b" stroke-width="1.25"/>
<line x1="485.58" y1="471" x2="497.27" y2="453.01" stroke="#2b2b2b" stroke-width="1.25"/>
<line x1="494.88" y1="471.01" x2="506.57" y2="453.03" stroke="#2b2b2b" stroke-width="1.25"/>
<line x1="504.18" y1="471.02" x2="515.87" y2="453.04" stroke="#2b2b2b" stroke-width="1.25"/>
<line x1="513.48" y1="471.04" x2="525.17" y2="453.05" stroke="#2b2b2b" stroke-width="1.25"/>
<line x1="522.78" y1="471.05" x2="534.47" y2="453.07" stroke="#2b2b2b" stroke-width="1.25"/>
<line x1="532.08" y1="471.07" x2="543.77" y2="453.08" stroke="#2b2b2b" stroke-width="1.25"/>
<line x1="541.38" y1="471.08" x2="553.07" y2="453.1" stroke="#2b2b2b" stroke-width="1.25"/>
<line x1="550.68" y1="471.09" x2="562.37" y2="453.11" stroke="#2b2b2b" stroke-width="1.25"/>
<line x1="559.98" y1="471.11" x2="571.67" y2="453.12" stroke="#2b2b2b" stroke-width="1.25"/>
<line x1="569.28" y1="471.12" x2="580.97" y2="453.14" stroke="#2b2b2b" stroke-width="1.25"/>
<line x1="578.58" y1="471.14" x2="590.27" y2="453.15" stroke="#2b2b2b" stroke-width="1.25"/>
<line x1="587.88" y1="471.15" x2="599.57" y2="453.17" stroke="#2b2b2b" stroke-width="1.25"/>
<line x1="597.18" y1="471.16" x2="607.2" y2="455.75" stroke="#2b2b2b" stroke-width="1.25"/>
<polygon points="434.6,459.12 561.4,459.31 561.4,463.71 434.6,463.52" fill="#3a3a3a" stroke="none" stroke-width="0"/>
<line x1="434.6" y1="459.12" x2="561.4" y2="459.31" stroke="#222" stroke-width="0.6"/>
<line x1="434.6" y1="463.52" x2="561.4" y2="463.71" stroke="#222" stroke-width="0.6"/>
<polygon points="592.3,459.86 597.9,459.86 597.9,463.26 592.3,463.26" fill="#3a3a3a" stroke="none" stroke-width="0"/>
<line x1="592.3" y1="459.86" x2="597.9" y2="459.86" stroke="#222" stroke-width="0.6"/>
<line x1="592.3" y1="463.26" x2="597.9" y2="463.26" stroke="#222" stroke-width="0.6"/>
<line x1="570.4" y1="485.5" x2="594.2" y2="461.6" stroke="#2b2b2b" stroke-width="1.2"/>
<path d="M570.4 485.5 Q562 478 560.8 464.5" fill="none" stroke="#444" stroke-width="0.7"/>
<line x1="592.3" y1="421.26" x2="834.1" y2="421.62" stroke="#444" stroke-width="0.7" stroke-dasharray="4.2 2.6"/>
<line x1="592.3" y1="438.06" x2="834.1" y2="438.42" stroke="#444" stroke-width="0.7" stroke-dasharray="4.2 2.6"/>
<line x1="592.3" y1="421.26" x2="592.3" y2="438.06" stroke="#444" stroke-width="0.7" stroke-dasharray="4.2 2.6"/>
<line x1="834.1" y1="421.62" x2="834.1" y2="438.42" stroke="#444" stroke-width="0.7" stroke-dasharray="4.2 2.6"/>
<line x1="592.3" y1="431.43" x2="599.43" y2="420.47" stroke="#2b2b2b" stroke-width="1.25"/>
<line x1="596.78" y1="438.86" x2="608.73" y2="420.48" stroke="#2b2b2b" stroke-width="1.25"/>
<line x1="606.08" y1="438.88" x2="618.03" y2="420.49" stroke="#2b2b2b" stroke-width="1.25"/>
<line x1="615.38" y1="438.89" x2="627.33" y2="420.51" stroke="#2b2b2b" stroke-width="1.25"/>
<line x1="624.68" y1="438.91" x2="636.63" y2="420.52" stroke="#2b2b2b" stroke-width="1.25"/>
<line x1="633.98" y1="438.92" x2="645.93" y2="420.54" stroke="#2b2b2b" stroke-width="1.25"/>
<line x1="643.28" y1="438.93" x2="655.23" y2="420.55" stroke="#2b2b2b" stroke-width="1.25"/>
<line x1="652.58" y1="438.95" x2="664.53" y2="420.56" stroke="#2b2b2b" stroke-width="1.25"/>
<line x1="661.88" y1="438.96" x2="673.83" y2="420.58" stroke="#2b2b2b" stroke-width="1.25"/>
<line x1="671.18" y1="438.97" x2="683.13" y2="420.59" stroke="#2b2b2b" stroke-width="1.25"/>
<line x1="680.48" y1="438.99" x2="692.43" y2="420.61" stroke="#2b2b2b" stroke-width="1.25"/>
<line x1="689.78" y1="439" x2="701.73" y2="420.62" stroke="#2b2b2b" stroke-width="1.25"/>
<line x1="699.08" y1="439.02" x2="711.03" y2="420.63" stroke="#2b2b2b" stroke-width="1.25"/>
<line x1="708.38" y1="439.03" x2="720.33" y2="420.65" stroke="#2b2b2b" stroke-width="1.25"/>
<line x1="717.68" y1="439.04" x2="729.63" y2="420.66" stroke="#2b2b2b" stroke-width="1.25"/>
<line x1="726.98" y1="439.06" x2="738.93" y2="420.67" stroke="#2b2b2b" stroke-width="1.25"/>
<line x1="736.28" y1="439.07" x2="748.23" y2="420.69" stroke="#2b2b2b" stroke-width="1.25"/>
<line x1="745.58" y1="439.09" x2="757.53" y2="420.7" stroke="#2b2b2b" stroke-width="1.25"/>
<line x1="754.88" y1="439.1" x2="766.83" y2="420.72" stroke="#2b2b2b" stroke-width="1.25"/>
<line x1="764.18" y1="439.11" x2="776.13" y2="420.73" stroke="#2b2b2b" stroke-width="1.25"/>
<line x1="773.48" y1="439.13" x2="785.43" y2="420.74" stroke="#2b2b2b" stroke-width="1.25"/>
<line x1="782.78" y1="439.14" x2="794.73" y2="420.76" stroke="#2b2b2b" stroke-width="1.25"/>
<line x1="792.08" y1="439.16" x2="804.03" y2="420.77" stroke="#2b2b2b" stroke-width="1.25"/>
<line x1="801.38" y1="439.17" x2="813.33" y2="420.79" stroke="#2b2b2b" stroke-width="1.25"/>
<line x1="810.68" y1="439.18" x2="822.63" y2="420.8" stroke="#2b2b2b" stroke-width="1.25"/>
<line x1="819.98" y1="439.2" x2="831.93" y2="420.81" stroke="#2b2b2b" stroke-width="1.25"/>
<line x1="829.28" y1="439.21" x2="834.1" y2="431.8" stroke="#2b2b2b" stroke-width="1.25"/>
<line x1="834.1" y1="414.92" x2="865.2" y2="414.97" stroke="#444" stroke-width="0.7" stroke-dasharray="4.2 2.6"/>
<line x1="834.1" y1="446.62" x2="865.2" y2="446.67" stroke="#444" stroke-width="0.7" stroke-dasharray="4.2 2.6"/>
<line x1="834.1" y1="414.92" x2="834.1" y2="446.62" stroke="#444" stroke-width="0.7" stroke-dasharray="4.2 2.6"/>
<line x1="865.2" y1="414.97" x2="865.2" y2="446.67" stroke="#444" stroke-width="0.7" stroke-dasharray="4.2 2.6"/>
<line x1="834.1" y1="420.13" x2="838.01" y2="414.12" stroke="#2b2b2b" stroke-width="1.25"/>
<line x1="834.1" y1="429.99" x2="844.41" y2="414.13" stroke="#2b2b2b" stroke-width="1.25"/>
<line x1="834.1" y1="439.84" x2="850.81" y2="414.14" stroke="#2b2b2b" stroke-width="1.25"/>
<line x1="835.58" y1="447.42" x2="857.21" y2="414.15" stroke="#2b2b2b" stroke-width="1.25"/>
<line x1="841.98" y1="447.43" x2="863.61" y2="414.16" stroke="#2b2b2b" stroke-width="1.25"/>
<line x1="848.38" y1="447.44" x2="865.2" y2="421.57" stroke="#2b2b2b" stroke-width="1.25"/>
<line x1="854.78" y1="447.45" x2="865.2" y2="431.42" stroke="#2b2b2b" stroke-width="1.25"/>
<line x1="861.18" y1="447.46" x2="865.2" y2="441.28" stroke="#2b2b2b" stroke-width="1.25"/>
<line x1="961.7" y1="415.11" x2="992.3" y2="415.16" stroke="#444" stroke-width="0.7" stroke-dasharray="4.2 2.6"/>
<line x1="961.7" y1="446.81" x2="992.3" y2="446.86" stroke="#444" stroke-width="0.7" stroke-dasharray="4.2 2.6"/>
<line x1="961.7" y1="415.11" x2="961.7" y2="446.81" stroke="#444" stroke-width="0.7" stroke-dasharray="4.2 2.6"/>
<line x1="992.3" y1="415.16" x2="992.3" y2="446.86" stroke="#444" stroke-width="0.7" stroke-dasharray="4.2 2.6"/>
<line x1="961.7" y1="420.32" x2="965.61" y2="414.31" stroke="#2b2b2b" stroke-width="1.25"/>
<line x1="961.7" y1="430.18" x2="972.01" y2="414.32" stroke="#2b2b2b" stroke-width="1.25"/>
<line x1="961.7" y1="440.03" x2="978.41" y2="414.33" stroke="#2b2b2b" stroke-width="1.25"/>
<line x1="963.18" y1="447.61" x2="984.81" y2="414.34" stroke="#2b2b2b" stroke-width="1.25"/>
<line x1="969.58" y1="447.62" x2="991.21" y2="414.35" stroke="#2b2b2b" stroke-width="1.25"/>
<line x1="975.98" y1="447.63" x2="992.3" y2="422.53" stroke="#2b2b2b" stroke-width="1.25"/>
<line x1="982.38" y1="447.64" x2="992.3" y2="432.38" stroke="#2b2b2b" stroke-width="1.25"/>
<line x1="988.78" y1="447.65" x2="992.3" y2="442.24" stroke="#2b2b2b" stroke-width="1.25"/>
<line x1="992.3" y1="421.86" x2="1049.6" y2="421.94" stroke="#444" stroke-width="0.7" stroke-dasharray="4.2 2.6"/>
<line x1="992.3" y1="439.16" x2="1049.6" y2="439.24" stroke="#444" stroke-width="0.7" stroke-dasharray="4.2 2.6"/>
<line x1="992.3" y1="421.86" x2="992.3" y2="439.16" stroke="#444" stroke-width="0.7" stroke-dasharray="4.2 2.6"/>
<line x1="1049.6" y1="421.94" x2="1049.6" y2="439.24" stroke="#444" stroke-width="0.7" stroke-dasharray="4.2 2.6"/>
<line x1="992.3" y1="430.99" x2="998.75" y2="421.06" stroke="#2b2b2b" stroke-width="1.25"/>
<line x1="995.78" y1="439.96" x2="1008.05" y2="421.08" stroke="#2b2b2b" stroke-width="1.25"/>
<line x1="1005.08" y1="439.98" x2="1017.35" y2="421.09" stroke="#2b2b2b" stroke-width="1.25"/>
<line x1="1014.38" y1="439.99" x2="1026.65" y2="421.11" stroke="#2b2b2b" stroke-width="1.25"/>
<line x1="1023.68" y1="440" x2="1035.95" y2="421.12" stroke="#2b2b2b" stroke-width="1.25"/>
<line x1="1032.98" y1="440.02" x2="1045.25" y2="421.13" stroke="#2b2b2b" stroke-width="1.25"/>
<line x1="1042.28" y1="440.03" x2="1049.6" y2="428.77" stroke="#2b2b2b" stroke-width="1.25"/>
<polygon points="601.5,428.17 722.6,428.35 722.6,431.95 601.5,431.77" fill="#3a3a3a" stroke="none" stroke-width="0"/>
<line x1="601.5" y1="428.17" x2="722.6" y2="428.35" stroke="#222" stroke-width="0.6"/>
<line x1="601.5" y1="431.77" x2="722.6" y2="431.95" stroke="#222" stroke-width="0.6"/>
<polygon points="760.2,428.41 850.5,428.54 850.5,432.14 760.2,432.01" fill="#3a3a3a" stroke="none" stroke-width="0"/>
<line x1="760.2" y1="428.41" x2="850.5" y2="428.54" stroke="#222" stroke-width="0.6"/>
<line x1="760.2" y1="432.01" x2="850.5" y2="432.14" stroke="#222" stroke-width="0.6"/>
<polygon points="975.9,427.63 1054.5,427.75 1054.5,431.15 975.9,431.03" fill="#3a3a3a" stroke="none" stroke-width="0"/>
<line x1="975.9" y1="427.63" x2="1054.5" y2="427.75" stroke="#222" stroke-width="0.6"/>
<line x1="975.9" y1="431.03" x2="1054.5" y2="431.15" stroke="#222" stroke-width="0.6"/>
<rect x="848.8" y="430.14" width="2.8" height="15.1" fill="#777" stroke="none" stroke-width="0"/>
<line x1="848.8" y1="430.14" x2="848.8" y2="445.24" stroke="#3c3c3c" stroke-width="0.8"/>
<line x1="851.6" y1="430.14" x2="851.6" y2="445.24" stroke="#3c3c3c" stroke-width="0.8"/>
<line x1="733.6" y1="457" x2="760.2" y2="430.4" stroke="#2b2b2b" stroke-width="1.2"/>
<line x1="755.4" y1="421.6" x2="760.2" y2="430.4" stroke="#2b2b2b" stroke-width="1"/>
<path d="M722.9 431 Q723.5 447 733.6 457" fill="none" stroke="#444" stroke-width="0.7"/>
<line x1="853" y1="430" x2="962" y2="430.16" stroke="#2e2e2e" stroke-width="1.3" stroke-dasharray="27 4 9 4"/>
<rect x="975.85" y="431.43" width="3.4" height="64.8" fill="#8a8a8a" stroke="none" stroke-width="0"/>
<line x1="975.85" y1="431.43" x2="975.85" y2="496.23" stroke="#3c3c3c" stroke-width="0.8"/>
<line x1="979.25" y1="431.43" x2="979.25" y2="496.23" stroke="#3c3c3c" stroke-width="0.8"/>
<polygon points="969.2,491.62 979.2,491.64 979.2,495.24 969.2,495.22" fill="#8a8a8a" stroke="none" stroke-width="0"/>
<line x1="969.2" y1="491.62" x2="979.2" y2="491.64" stroke="#3c3c3c" stroke-width="0.8"/>
<line x1="969.2" y1="495.22" x2="979.2" y2="495.24" stroke="#3c3c3c" stroke-width="0.8"/>
<line x1="944.2" y1="521.3" x2="970.1" y2="495.3" stroke="#2b2b2b" stroke-width="1.2"/>
<path d="M931.9 495.5 Q933 512 944.2 521.3" fill="none" stroke="#444" stroke-width="0.7"/>
<polygon points="765.3,443.67 917.4,443.89 917.4,446.79 765.3,446.57" fill="#9a9a9a" stroke="none" stroke-width="0"/>
<line x1="765.3" y1="443.67" x2="917.4" y2="443.89" stroke="#444" stroke-width="0.8"/>
<line x1="765.3" y1="446.57" x2="917.4" y2="446.79" stroke="#444" stroke-width="0.8"/>
<line x1="760.2" y1="485.51" x2="921.6" y2="485.75" stroke="#444" stroke-width="0.7" stroke-dasharray="4.2 2.6"/>
<line x1="760.2" y1="502.51" x2="921.6" y2="502.75" stroke="#444" stroke-width="0.7" stroke-dasharray="4.2 2.6"/>
<line x1="760.2" y1="485.51" x2="760.2" y2="502.51" stroke="#444" stroke-width="0.7" stroke-dasharray="4.2 2.6"/>
<line x1="921.6" y1="485.75" x2="921.6" y2="502.75" stroke="#444" stroke-width="0.7" stroke-dasharray="4.2 2.6"/>
<line x1="760.2" y1="494.35" x2="766.46" y2="484.72" stroke="#2b2b2b" stroke-width="1.25"/>
<line x1="763.68" y1="503.31" x2="775.76" y2="484.73" stroke="#2b2b2b" stroke-width="1.25"/>
<line x1="772.98" y1="503.33" x2="785.06" y2="484.74" stroke="#2b2b2b" stroke-width="1.25"/>
<line x1="782.28" y1="503.34" x2="794.36" y2="484.76" stroke="#2b2b2b" stroke-width="1.25"/>
<line x1="791.58" y1="503.36" x2="803.66" y2="484.77" stroke="#2b2b2b" stroke-width="1.25"/>
<line x1="800.88" y1="503.37" x2="812.96" y2="484.79" stroke="#2b2b2b" stroke-width="1.25"/>
<line x1="810.18" y1="503.38" x2="822.26" y2="484.8" stroke="#2b2b2b" stroke-width="1.25"/>
<line x1="819.48" y1="503.4" x2="831.56" y2="484.81" stroke="#2b2b2b" stroke-width="1.25"/>
<line x1="828.78" y1="503.41" x2="840.86" y2="484.83" stroke="#2b2b2b" stroke-width="1.25"/>
<line x1="838.08" y1="503.43" x2="850.16" y2="484.84" stroke="#2b2b2b" stroke-width="1.25"/>
<line x1="847.38" y1="503.44" x2="859.46" y2="484.86" stroke="#2b2b2b" stroke-width="1.25"/>
<line x1="856.68" y1="503.45" x2="868.76" y2="484.87" stroke="#2b2b2b" stroke-width="1.25"/>
<line x1="865.98" y1="503.47" x2="878.06" y2="484.88" stroke="#2b2b2b" stroke-width="1.25"/>
<line x1="875.28" y1="503.48" x2="887.36" y2="484.9" stroke="#2b2b2b" stroke-width="1.25"/>
<line x1="884.58" y1="503.49" x2="896.66" y2="484.91" stroke="#2b2b2b" stroke-width="1.25"/>
<line x1="893.88" y1="503.51" x2="905.96" y2="484.93" stroke="#2b2b2b" stroke-width="1.25"/>
<line x1="903.18" y1="503.52" x2="915.26" y2="484.94" stroke="#2b2b2b" stroke-width="1.25"/>
<line x1="912.48" y1="503.54" x2="921.6" y2="489.51" stroke="#2b2b2b" stroke-width="1.25"/>
<polygon points="765.3,491.32 931.6,491.56 931.6,495.16 765.3,494.92" fill="#3a3a3a" stroke="none" stroke-width="0"/>
<line x1="765.3" y1="491.32" x2="931.6" y2="491.56" stroke="#222" stroke-width="0.6"/>
<line x1="765.3" y1="494.92" x2="931.6" y2="495.16" stroke="#222" stroke-width="0.6"/>
<line x1="768.6" y1="446" x2="768.6" y2="527.02" stroke="#4a4a4a" stroke-width="0.7"/>
<line x1="778.99" y1="446" x2="778.99" y2="491" stroke="#4a4a4a" stroke-width="0.7"/>
<line x1="789.38" y1="446" x2="789.38" y2="491" stroke="#4a4a4a" stroke-width="0.7"/>
<line x1="799.77" y1="446" x2="799.77" y2="491" stroke="#4a4a4a" stroke-width="0.7"/>
<line x1="810.16" y1="446" x2="810.16" y2="491" stroke="#4a4a4a" stroke-width="0.7"/>
<line x1="820.55" y1="446" x2="820.55" y2="491" stroke="#4a4a4a" stroke-width="0.7"/>
<line x1="830.94" y1="446" x2="830.94" y2="491" stroke="#4a4a4a" stroke-width="0.7"/>
<line x1="841.33" y1="446" x2="841.33" y2="491" stroke="#4a4a4a" stroke-width="0.7"/>
<line x1="851.72" y1="446" x2="851.72" y2="491" stroke="#4a4a4a" stroke-width="0.7"/>
<line x1="862.11" y1="446" x2="862.11" y2="491" stroke="#4a4a4a" stroke-width="0.7"/>
<line x1="872.5" y1="446" x2="872.5" y2="491" stroke="#4a4a4a" stroke-width="0.7"/>
<line x1="882.89" y1="446" x2="882.89" y2="491" stroke="#4a4a4a" stroke-width="0.7"/>
<line x1="903.67" y1="446" x2="903.67" y2="491" stroke="#4a4a4a" stroke-width="0.7"/>
<line x1="914.06" y1="446" x2="914.06" y2="527.24" stroke="#4a4a4a" stroke-width="0.7"/>
<rect x="773.1" y="498.4" width="37.3" height="25.4" fill="none" stroke="#444" stroke-width="0.8"/>
<rect x="774.2" y="499.5" width="35.2" height="22.6" fill="none" stroke="#777" stroke-width="0.5"/>
<circle cx="875.6" cy="511.6" r="11.7" fill="none" stroke="#444" stroke-width="0.8"/>
<circle cx="834.6" cy="532" r="2.6" fill="none" stroke="#444" stroke-width="0.8"/>
<circle cx="1037.3" cy="557.6" r="10.9" fill="none" stroke="#444" stroke-width="0.8"/>
<circle cx="570.4" cy="346.6" r="3.9" fill="none" stroke="#333" stroke-width="0.7"/>
<text x="570.4" y="348.8" font-size="5.6" text-anchor="middle" font-weight="bold">S</text>
<circle cx="570.6" cy="477" r="3.9" fill="none" stroke="#333" stroke-width="0.7"/>
<text x="570.6" y="479.2" font-size="5.6" text-anchor="middle" font-weight="bold">S</text>
<circle cx="943.7" cy="470.4" r="3.9" fill="none" stroke="#333" stroke-width="0.7"/>
<text x="943.7" y="472.6" font-size="5.6" text-anchor="middle" font-weight="bold">S</text>
<line x1="931.6" y1="470" x2="907.2" y2="469.9" stroke="#3a3a3a" stroke-width="0.8"/>
<polygon points="907.2,469.9 913.21,468.42 913.19,471.42" fill="#222"/>
<line x1="943" y1="816.7" x2="943" y2="862.3" stroke="#3a3a3a" stroke-width="0.8"/>
<polygon points="943,862.3 941.5,855.3 944.5,855.3" fill="#222"/>
<line x1="1165" y1="792.5" x2="1165.1" y2="838.2" stroke="#3a3a3a" stroke-width="0.8"/>
<polygon points="1165.1,838.2 1163.58,831.2 1166.58,831.2" fill="#222"/>
<line x1="826.77" y1="896.39" x2="826.77" y2="904.65" stroke="#444" stroke-width="0.7"/>
<line x1="1053.56" y1="896.73" x2="1053.56" y2="904.99" stroke="#444" stroke-width="0.7"/>
<line x1="826.77" y1="896.99" x2="1053.56" y2="904.19" stroke="#555" stroke-width="0.6"/>
<line x1="826.77" y1="903.85" x2="1053.56" y2="897.33" stroke="#555" stroke-width="0.6"/>
<line x1="826.77" y1="897.59" x2="1053.56" y2="897.93" stroke="#555" stroke-width="0.6"/>
<line x1="1104.47" y1="872.02" x2="1104.47" y2="880.28" stroke="#444" stroke-width="0.7"/>
<line x1="1220.17" y1="872.2" x2="1220.17" y2="880.46" stroke="#444" stroke-width="0.7"/>
<line x1="1104.47" y1="872.62" x2="1220.17" y2="879.66" stroke="#555" stroke-width="0.6"/>
<line x1="1104.47" y1="879.48" x2="1220.17" y2="872.8" stroke="#555" stroke-width="0.6"/>
<line x1="1104.47" y1="873.22" x2="1220.17" y2="873.4" stroke="#555" stroke-width="0.6"/>
<line x1="420.8" y1="297.5" x2="1237.37" y2="298.72" stroke="#505050" stroke-width="0.85"/>
<line x1="419.2" y1="300.1" x2="424.4" y2="294.9" stroke="#222" stroke-width="1.1"/>
<line x1="596.87" y1="300.37" x2="602.07" y2="295.17" stroke="#222" stroke-width="1.1"/>
<line x1="1065.1" y1="301.07" x2="1070.3" y2="295.87" stroke="#222" stroke-width="1.1"/>
<line x1="1233.77" y1="301.32" x2="1238.97" y2="296.12" stroke="#222" stroke-width="1.1"/>
<line x1="420.8" y1="318.4" x2="600.47" y2="318.67" stroke="#505050" stroke-width="0.85"/>
<line x1="419.2" y1="321" x2="424.4" y2="315.8" stroke="#222" stroke-width="1.1"/>
<line x1="511.51" y1="321.14" x2="516.71" y2="315.94" stroke="#222" stroke-width="1.1"/>
<line x1="551.11" y1="321.2" x2="556.31" y2="316" stroke="#222" stroke-width="1.1"/>
<line x1="596.87" y1="321.27" x2="602.07" y2="316.07" stroke="#222" stroke-width="1.1"/>
<line x1="514.11" y1="318.4" x2="514.11" y2="360" stroke="#505050" stroke-width="0.85"/>
<line x1="553.71" y1="318.4" x2="553.71" y2="360" stroke="#505050" stroke-width="0.85"/>
<line x1="420.8" y1="410.9" x2="1064.58" y2="411.86" stroke="#505050" stroke-width="0.85"/>
<line x1="419.2" y1="413.5" x2="424.4" y2="408.3" stroke="#222" stroke-width="1.1"/>
<line x1="551.11" y1="413.7" x2="556.31" y2="408.5" stroke="#222" stroke-width="1.1"/>
<line x1="596.87" y1="413.77" x2="602.07" y2="408.57" stroke="#222" stroke-width="1.1"/>
<line x1="847.31" y1="414.14" x2="852.51" y2="408.94" stroke="#222" stroke-width="1.1"/>
<line x1="974.85" y1="414.33" x2="980.05" y2="409.13" stroke="#222" stroke-width="1.1"/>
<line x1="1060.98" y1="414.46" x2="1066.18" y2="409.26" stroke="#222" stroke-width="1.1"/>
<line x1="849.91" y1="409" x2="849.91" y2="446" stroke="#505050" stroke-width="0.85"/>
<line x1="1062.58" y1="437.76" x2="1237.37" y2="438.02" stroke="#505050" stroke-width="0.85"/>
<line x1="1060.98" y1="440.36" x2="1066.18" y2="435.16" stroke="#222" stroke-width="1.1"/>
<line x1="1065.1" y1="440.37" x2="1070.3" y2="435.17" stroke="#222" stroke-width="1.1"/>
<line x1="1233.77" y1="440.62" x2="1238.97" y2="435.42" stroke="#222" stroke-width="1.1"/>
<line x1="420.8" y1="525" x2="1237.37" y2="526.22" stroke="#505050" stroke-width="0.85"/>
<line x1="419.2" y1="527.6" x2="424.4" y2="522.4" stroke="#222" stroke-width="1.1"/>
<line x1="596.87" y1="527.87" x2="602.07" y2="522.67" stroke="#222" stroke-width="1.1"/>
<line x1="626.7" y1="527.91" x2="631.9" y2="522.71" stroke="#222" stroke-width="1.1"/>
<line x1="766.83" y1="528.12" x2="772.03" y2="522.92" stroke="#222" stroke-width="1.1"/>
<line x1="910.82" y1="528.34" x2="916.02" y2="523.14" stroke="#222" stroke-width="1.1"/>
<line x1="1060.98" y1="528.56" x2="1066.18" y2="523.36" stroke="#222" stroke-width="1.1"/>
<line x1="1233.77" y1="528.82" x2="1238.97" y2="523.62" stroke="#222" stroke-width="1.1"/>
<line x1="791.06" y1="627.95" x2="1237.37" y2="628.62" stroke="#505050" stroke-width="0.85"/>
<line x1="789.46" y1="630.56" x2="794.66" y2="625.36" stroke="#222" stroke-width="1.1"/>
<line x1="1060.98" y1="630.96" x2="1066.18" y2="625.76" stroke="#222" stroke-width="1.1"/>
<line x1="1233.77" y1="631.22" x2="1238.97" y2="626.02" stroke="#222" stroke-width="1.1"/>
<line x1="791.06" y1="664.05" x2="1237.37" y2="664.72" stroke="#505050" stroke-width="0.85"/>
<line x1="789.46" y1="666.66" x2="794.66" y2="661.46" stroke="#222" stroke-width="1.1"/>
<line x1="1233.77" y1="667.32" x2="1238.97" y2="662.12" stroke="#222" stroke-width="1.1"/>
<line x1="420.8" y1="782.4" x2="793.06" y2="782.96" stroke="#505050" stroke-width="0.85"/>
<line x1="419.2" y1="785" x2="424.4" y2="779.8" stroke="#222" stroke-width="1.1"/>
<line x1="567.3" y1="785.22" x2="572.5" y2="780.02" stroke="#222" stroke-width="1.1"/>
<line x1="789.46" y1="785.56" x2="794.66" y2="780.36" stroke="#222" stroke-width="1.1"/>
<line x1="484.4" y1="194.6" x2="484.4" y2="634.01" stroke="#505050" stroke-width="0.85"/>
<line x1="481.8" y1="195.19" x2="487" y2="200.39" stroke="#222" stroke-width="1.1"/>
<line x1="481.8" y1="358.61" x2="487" y2="363.81" stroke="#222" stroke-width="1.1"/>
<line x1="481.8" y1="389.59" x2="487" y2="394.79" stroke="#222" stroke-width="1.1"/>
<line x1="481.8" y1="458.78" x2="487" y2="463.98" stroke="#222" stroke-width="1.1"/>
<line x1="481.8" y1="628.91" x2="487" y2="634.11" stroke="#222" stroke-width="1.1"/>
<line x1="645.8" y1="195.54" x2="645.8" y2="638.39" stroke="#505050" stroke-width="0.85"/>
<line x1="643.2" y1="195.44" x2="648.4" y2="200.64" stroke="#222" stroke-width="1.1"/>
<line x1="643.2" y1="358.86" x2="648.4" y2="364.06" stroke="#222" stroke-width="1.1"/>
<line x1="643.2" y1="427.01" x2="648.4" y2="432.21" stroke="#222" stroke-width="1.1"/>
<line x1="643.2" y1="492.59" x2="648.4" y2="497.79" stroke="#222" stroke-width="1.1"/>
<line x1="643.2" y1="569.52" x2="648.4" y2="574.72" stroke="#222" stroke-width="1.1"/>
<line x1="643.2" y1="633.29" x2="648.4" y2="638.49" stroke="#222" stroke-width="1.1"/>
<line x1="743.4" y1="195.68" x2="743.4" y2="708.75" stroke="#505050" stroke-width="0.85"/>
<line x1="740.8" y1="195.58" x2="746" y2="200.78" stroke="#222" stroke-width="1.1"/>
<line x1="740.8" y1="427.16" x2="746" y2="432.36" stroke="#222" stroke-width="1.1"/>
<line x1="740.8" y1="583.87" x2="746" y2="589.07" stroke="#222" stroke-width="1.1"/>
<line x1="740.8" y1="633.43" x2="746" y2="638.63" stroke="#222" stroke-width="1.1"/>
<line x1="740.8" y1="703.65" x2="746" y2="708.85" stroke="#222" stroke-width="1.1"/>
<line x1="893.5" y1="195.91" x2="893.5" y2="907.25" stroke="#505050" stroke-width="0.85"/>
<line x1="890.9" y1="195.81" x2="896.1" y2="201.01" stroke="#222" stroke-width="1.1"/>
<line x1="890.9" y1="427.38" x2="896.1" y2="432.58" stroke="#222" stroke-width="1.1"/>
<line x1="890.9" y1="442.87" x2="896.1" y2="448.07" stroke="#222" stroke-width="1.1"/>
<line x1="890.9" y1="490.89" x2="896.1" y2="496.09" stroke="#222" stroke-width="1.1"/>
<line x1="890.9" y1="579.96" x2="896.1" y2="585.16" stroke="#222" stroke-width="1.1"/>
<line x1="890.9" y1="902.15" x2="896.1" y2="907.35" stroke="#222" stroke-width="1.1"/>
<line x1="841" y1="584.11" x2="841" y2="907.17" stroke="#505050" stroke-width="0.85"/>
<line x1="838.4" y1="584.01" x2="843.6" y2="589.21" stroke="#222" stroke-width="1.1"/>
<line x1="838.4" y1="703.8" x2="843.6" y2="709" stroke="#222" stroke-width="1.1"/>
<line x1="838.4" y1="902.07" x2="843.6" y2="907.27" stroke="#222" stroke-width="1.1"/>
<line x1="1110.5" y1="394.51" x2="1110.5" y2="882.79" stroke="#505050" stroke-width="0.85"/>
<line x1="1107.9" y1="394.41" x2="1113.1" y2="399.61" stroke="#222" stroke-width="1.1"/>
<line x1="1107.9" y1="580.29" x2="1113.1" y2="585.49" stroke="#222" stroke-width="1.1"/>
<line x1="1107.9" y1="877.69" x2="1113.1" y2="882.89" stroke="#222" stroke-width="1.1"/>
<line x1="607.5" y1="361.68" x2="648.5" y2="361.74" stroke="#505050" stroke-width="0.85"/>
<line x1="1063.58" y1="582.81" x2="1113" y2="582.89" stroke="#505050" stroke-width="0.85"/>
<line x1="718.01" y1="635.99" x2="746" y2="636.04" stroke="#505050" stroke-width="0.85"/>
<line x1="715.41" y1="638.59" x2="720.61" y2="633.39" stroke="#222" stroke-width="1.1"/>
<line x1="800.29" y1="706.34" x2="844" y2="706.41" stroke="#505050" stroke-width="0.85"/>
<line x1="800.29" y1="586.55" x2="843.5" y2="586.62" stroke="#505050" stroke-width="0.85"/>
<line x1="1063.58" y1="582.81" x2="1063.58" y2="631.36" stroke="#505050" stroke-width="0.85"/>
<line x1="631" y1="495.16" x2="648.5" y2="495.19" stroke="#505050" stroke-width="0.85"/>
<line x1="631" y1="572.1" x2="648.5" y2="572.12" stroke="#505050" stroke-width="0.85"/>
<line x1="800" y1="582.72" x2="896" y2="582.86" stroke="#505050" stroke-width="0.85"/>
<path d="M1077.5 425.6 Q1068 426.5 1064.6 436.5" fill="none" stroke="#505050" stroke-width="0.7"/>
<path d="M828 584.2 Q835 580.8 840.2 585.4 M828 584.2 Q822.6 587 823 592.5" fill="none" stroke="#505050" stroke-width="0.7"/>
<path d="M306.8 624.8 Q308.6 632.6 316.6 633.8" fill="none" stroke="#505050" stroke-width="0.8"/>
<path d="M880.8 429.6 Q883 437 892.8 437.8" fill="none" stroke="#505050" stroke-width="0.7"/>
<path d="M1111 939.7 Q1098.5 939.5 1095.6 953.4" fill="none" stroke="#505050" stroke-width="0.7"/>
<path d="M1217 939.8 Q1226.5 941 1228.2 953.6" fill="none" stroke="#505050" stroke-width="0.7"/>
<text x="814" y="81.9" font-size="10.3" textLength="29.3" lengthAdjust="spacingAndGlyphs">66'0"</text>
<text x="732.7" y="103.7" font-size="10.3" textLength="23.3" lengthAdjust="spacingAndGlyphs">52'4"</text>
<text x="1140.7" y="104.3" font-size="10.3" textLength="21.6" lengthAdjust="spacingAndGlyphs">13'8"</text>
<text x="495" y="125.3" font-size="10.3" textLength="30.8" lengthAdjust="spacingAndGlyphs">14'4¾"</text>
<text x="818.3" y="125.7" font-size="10.3" textLength="30" lengthAdjust="spacingAndGlyphs">37'11¼"</text>
<text x="456.7" y="147.05" font-size="10.3" textLength="23.3" lengthAdjust="spacingAndGlyphs">7'7½"</text>
<text x="544" y="147.18" font-size="10.3" textLength="27.7" lengthAdjust="spacingAndGlyphs">6'9¼"</text>
<text x="633.3" y="147.32" font-size="10.3" textLength="26" lengthAdjust="spacingAndGlyphs">7'8¼"</text>
<text x="743.3" y="147.48" font-size="10.3" textLength="36" lengthAdjust="spacingAndGlyphs">10'10¼"</text>
<text x="877.3" y="147.68" font-size="10.3" textLength="36" lengthAdjust="spacingAndGlyphs">10'10¼"</text>
<text x="1000.7" y="147.87" font-size="10.3" textLength="27.6" lengthAdjust="spacingAndGlyphs">8'6½"</text>
<text x="1097.3" y="148.01" font-size="10.3" textLength="21" lengthAdjust="spacingAndGlyphs">6'6"</text>
<text x="1185" y="148.14" font-size="10.3" textLength="14" lengthAdjust="spacingAndGlyphs">7'2"</text>
<text x="795" y="950" font-size="10.3" textLength="26.7" lengthAdjust="spacingAndGlyphs">2'9¾"</text>
<text x="925" y="950.5" font-size="10.3" textLength="29" lengthAdjust="spacingAndGlyphs">18'4½"</text>
<text x="1056" y="951.2" font-size="10.3" textLength="26.7" lengthAdjust="spacingAndGlyphs">2'9¾"</text>
<text x="1112" y="943.8" font-size="10.3" textLength="23.8" lengthAdjust="spacingAndGlyphs">1'3¾"</text>
<text x="1148.8" y="952" font-size="10.3" textLength="25.9" lengthAdjust="spacingAndGlyphs">9'4½"</text>
<text x="1192.3" y="943.2" font-size="10.3" textLength="23.7" lengthAdjust="spacingAndGlyphs">1'3¾"</text>
<text x="556.7" y="972" font-size="10.3" textLength="25" lengthAdjust="spacingAndGlyphs">24'0"</text>
<text x="743.3" y="972.2" font-size="10.3" textLength="21.7" lengthAdjust="spacingAndGlyphs">6'0"</text>
<text x="926.7" y="972.6" font-size="10.3" textLength="25" lengthAdjust="spacingAndGlyphs">24'0"</text>
<text x="1151.3" y="973.8" font-size="10.3" textLength="20.6" lengthAdjust="spacingAndGlyphs">12'0"</text>
<text x="591.7" y="993.6" font-size="10.3" textLength="28.3" lengthAdjust="spacingAndGlyphs">30'0"</text>
<text x="1000" y="994.3" font-size="10.3" textLength="26.7" lengthAdjust="spacingAndGlyphs">36'0"</text>
<text x="814" y="1015.2" font-size="10.3" textLength="28.7" lengthAdjust="spacingAndGlyphs">66'0"</text>
<text x="273" y="565" font-size="10.3" textLength="25.7" lengthAdjust="spacingAndGlyphs" transform="rotate(-90 273 565)">57'0"</text>
<text x="294.3" y="429.3" font-size="10.3" textLength="21" lengthAdjust="spacingAndGlyphs" transform="rotate(-90 294.3 429.3)">35'4"</text>
<text x="294.3" y="780" font-size="10.3" textLength="20" lengthAdjust="spacingAndGlyphs" transform="rotate(-90 294.3 780)">21'8"</text>
<text x="316.2" y="284.2" font-size="10.3" textLength="21.4" lengthAdjust="spacingAndGlyphs" transform="rotate(-90 316.2 284.2)">12'0"</text>
<text x="316.4" y="501.7" font-size="10.3" textLength="21.7" lengthAdjust="spacingAndGlyphs" transform="rotate(-90 316.4 501.7)">23'0"</text>
<text x="317.2" y="680" font-size="10.3" textLength="16.7" lengthAdjust="spacingAndGlyphs" transform="rotate(-90 317.2 680)">5'8"</text>
<text x="316.8" y="818.3" font-size="10.3" textLength="25" lengthAdjust="spacingAndGlyphs" transform="rotate(-90 316.8 818.3)">16'0"</text>
<text x="337.9" y="363.5" font-size="10.3" textLength="19.1" lengthAdjust="spacingAndGlyphs" transform="rotate(-90 337.9 363.5)">1'2¼"</text>
<text x="337.9" y="385.6" font-size="10.3" textLength="15.6" lengthAdjust="spacingAndGlyphs" transform="rotate(-90 337.9 385.6)">2'6"</text>
<text x="337.9" y="436.7" font-size="10.3" textLength="15" lengthAdjust="spacingAndGlyphs" transform="rotate(-90 337.9 436.7)">5'7"</text>
<text x="337.9" y="563.3" font-size="10.3" textLength="31.6" lengthAdjust="spacingAndGlyphs" transform="rotate(-90 337.9 563.3)">13'8¾"</text>
<text x="359.6" y="516.7" font-size="10.3" textLength="26.7" lengthAdjust="spacingAndGlyphs" transform="rotate(-90 359.6 516.7)">6'5¼"</text>
<text x="359.6" y="600" font-size="10.3" textLength="18.3" lengthAdjust="spacingAndGlyphs" transform="rotate(-90 359.6 600)">7'3½"</text>
<text x="308.8" y="623.6" font-size="10.3" textLength="10.5" lengthAdjust="spacingAndGlyphs" transform="rotate(-62 308.8 623.6)">4"</text>
<text x="1316.7" y="310" font-size="10.3" textLength="23.3" lengthAdjust="spacingAndGlyphs" transform="rotate(-90 1316.7 310)">16'0"</text>
<text x="1295.3" y="652.3" font-size="10.3" textLength="26" lengthAdjust="spacingAndGlyphs" transform="rotate(-90 1295.3 652.3)">39'0"</text>
<text x="1316.9" y="663" font-size="10.3" textLength="23.3" lengthAdjust="spacingAndGlyphs" transform="rotate(-90 1316.9 663)">41'0"</text>
<text x="1338.6" y="565.7" font-size="10.3" textLength="26" lengthAdjust="spacingAndGlyphs" transform="rotate(-90 1338.6 565.7)">57'0"</text>
<text x="1294.6" y="903.7" font-size="10.3" textLength="18.4" lengthAdjust="spacingAndGlyphs" transform="rotate(-90 1294.6 903.7)">2'0"</text>
<text x="482.8" y="293.7" font-size="10.3" textLength="26.7" lengthAdjust="spacingAndGlyphs" transform="rotate(-90 482.8 293.7)">13'2¼"</text>
<text x="494.5" y="295.3" font-size="10.3" textLength="31.8" lengthAdjust="spacingAndGlyphs">14'4¾"</text>
<text x="818.3" y="295.2" font-size="10.3" textLength="30.1" lengthAdjust="spacingAndGlyphs">37'11¼"</text>
<text x="1141.1" y="295.3" font-size="10.3" textLength="20.6" lengthAdjust="spacingAndGlyphs">13'8"</text>
<text x="454.3" y="316.3" font-size="10.3" textLength="26.8" lengthAdjust="spacingAndGlyphs">7'5¾"</text>
<text x="521.2" y="316.3" font-size="10.3" textLength="24.3" lengthAdjust="spacingAndGlyphs">3'2½"</text>
<text x="563" y="316.3" font-size="10.3" textLength="26" lengthAdjust="spacingAndGlyphs">3'8½"</text>
<text x="643.8" y="293" font-size="10.3" textLength="26" lengthAdjust="spacingAndGlyphs" transform="rotate(-90 643.8 293)">13'2¼"</text>
<text x="741.8" y="328.9" font-size="10.3" textLength="28.4" lengthAdjust="spacingAndGlyphs" transform="rotate(-90 741.8 328.9)">18'8¼"</text>
<text x="892.3" y="328.3" font-size="10.3" textLength="28.3" lengthAdjust="spacingAndGlyphs" transform="rotate(-90 892.3 328.3)">18'8¼"</text>
<text x="483" y="387.3" font-size="10.3" textLength="14" lengthAdjust="spacingAndGlyphs" transform="rotate(-90 483 387.3)">2'6"</text>
<text x="483" y="436" font-size="10.3" textLength="19.3" lengthAdjust="spacingAndGlyphs" transform="rotate(-90 483 436)">5'7"</text>
<text x="482.8" y="562.2" font-size="10.3" textLength="30.4" lengthAdjust="spacingAndGlyphs" transform="rotate(-90 482.8 562.2)">13'8¾"</text>
<text x="474" y="408.5" font-size="10.3" textLength="32" lengthAdjust="spacingAndGlyphs">10'8¼"</text>
<text x="562.9" y="408.7" font-size="10.3" textLength="22.5" lengthAdjust="spacingAndGlyphs">3'8½"</text>
<text x="707.6" y="408.8" font-size="10.3" textLength="32.6" lengthAdjust="spacingAndGlyphs">20'3½"</text>
<text x="901.5" y="409" font-size="10.3" textLength="21.8" lengthAdjust="spacingAndGlyphs">10'4"</text>
<text x="1005.5" y="409.7" font-size="10.3" textLength="28.1" lengthAdjust="spacingAndGlyphs">6'11¾"</text>
<text x="644" y="405.8" font-size="10.3" textLength="19.1" lengthAdjust="spacingAndGlyphs" transform="rotate(-90 644 405.8)">5'6"</text>
<text x="644.4" y="476.7" font-size="10.3" textLength="22.7" lengthAdjust="spacingAndGlyphs" transform="rotate(-90 644.4 476.7)">5'3½"</text>
<text x="644.6" y="546" font-size="10.3" textLength="25" lengthAdjust="spacingAndGlyphs" transform="rotate(-90 644.6 546)">6'2½"</text>
<text x="644.2" y="616.8" font-size="10.3" textLength="24.3" lengthAdjust="spacingAndGlyphs" transform="rotate(-90 644.2 616.8)">5'1¾"</text>
<text x="594.2" y="404.2" font-size="9" textLength="15.4" lengthAdjust="spacingAndGlyphs" transform="rotate(-90 594.2 404.2)">3'6"</text>
<text x="557.6" y="423.3" font-size="8.5" textLength="16" lengthAdjust="spacingAndGlyphs" transform="rotate(-90 557.6 423.3)">2'6"</text>
<text x="526" y="395" font-size="10.3" textLength="15.7" lengthAdjust="spacingAndGlyphs">2'0"</text>
<text x="494.8" y="522.9" font-size="10.3" textLength="30.6" lengthAdjust="spacingAndGlyphs">14'4¾"</text>
<text x="604.8" y="523" font-size="10.3" textLength="17.6" lengthAdjust="spacingAndGlyphs">2'5"</text>
<text x="683.5" y="523" font-size="10.3" textLength="31.5" lengthAdjust="spacingAndGlyphs">11'4¼"</text>
<text x="832.1" y="523.2" font-size="10.3" textLength="17.6" lengthAdjust="spacingAndGlyphs">11'8"</text>
<text x="979.7" y="523.4" font-size="10.3" textLength="16.3" lengthAdjust="spacingAndGlyphs">12'2"</text>
<text x="1138.1" y="523.5" font-size="10.3" textLength="22.6" lengthAdjust="spacingAndGlyphs">14'0"</text>
<text x="742" y="522.1" font-size="10.3" textLength="27.1" lengthAdjust="spacingAndGlyphs" transform="rotate(-90 742 522.1)">12'7¾"</text>
<text x="742.2" y="621.9" font-size="10.3" textLength="19.3" lengthAdjust="spacingAndGlyphs" transform="rotate(-90 742.2 621.9)">4'0"</text>
<text x="742.2" y="680.7" font-size="10.3" textLength="17" lengthAdjust="spacingAndGlyphs" transform="rotate(-90 742.2 680.7)">5'8"</text>
<text x="881.6" y="426.8" font-size="9.5" textLength="13.4" lengthAdjust="spacingAndGlyphs" transform="rotate(-90 881.6 426.8)">1'3"</text>
<text x="892.3" y="486.2" font-size="10.3" textLength="30.9" lengthAdjust="spacingAndGlyphs" transform="rotate(-90 892.3 486.2)">3'10½"</text>
<text x="892.3" y="549.7" font-size="10.3" textLength="22.5" lengthAdjust="spacingAndGlyphs" transform="rotate(-90 892.3 549.7)">7'2¼"</text>
<text x="1108.2" y="502" font-size="10.3" textLength="21.7" lengthAdjust="spacingAndGlyphs" transform="rotate(-90 1108.2 502)">15'0"</text>
<text x="1108.6" y="745" font-size="10.3" textLength="25" lengthAdjust="spacingAndGlyphs" transform="rotate(-90 1108.6 745)">24'0"</text>
<text x="892" y="757.3" font-size="10.3" textLength="25.6" lengthAdjust="spacingAndGlyphs" transform="rotate(-90 892 757.3)">26'0"</text>
<text x="839" y="656.2" font-size="10.3" textLength="17.6" lengthAdjust="spacingAndGlyphs" transform="rotate(-90 839 656.2)">9'8"</text>
<text x="839.2" y="818.3" font-size="10.3" textLength="25" lengthAdjust="spacingAndGlyphs" transform="rotate(-90 839.2 818.3)">16'0"</text>
<text x="829.4" y="603.1" font-size="9.5" textLength="8.8" lengthAdjust="spacingAndGlyphs" transform="rotate(-90 829.4 603.1)">4"</text>
<text x="1079" y="428.6" font-size="10.3" textLength="10" lengthAdjust="spacingAndGlyphs">4"</text>
<text x="1141.4" y="434.7" font-size="10.3" textLength="20.9" lengthAdjust="spacingAndGlyphs">13'8"</text>
<text x="916" y="625.2" font-size="10.3" textLength="22.3" lengthAdjust="spacingAndGlyphs">22'0"</text>
<text x="1137.6" y="625.8" font-size="10.3" textLength="22.8" lengthAdjust="spacingAndGlyphs">14'0"</text>
<text x="1000" y="662" font-size="10.3" textLength="26.9" lengthAdjust="spacingAndGlyphs">36'0"</text>
<text x="485" y="780.3" font-size="10.3" textLength="21" lengthAdjust="spacingAndGlyphs">12'0"</text>
<text x="668.3" y="780.5" font-size="10.3" textLength="23.4" lengthAdjust="spacingAndGlyphs">18'0"</text>
<text x="942.5" y="496.2" font-size="10.3" textLength="16.7" lengthAdjust="spacingAndGlyphs">3'0"</text>
<text x="603.5" y="547" font-size="7.5" textLength="26" lengthAdjust="spacingAndGlyphs" transform="rotate(-90 603.5 547)">2 - 2'6"</text>
<text x="418.8" y="563.8" font-size="9" textLength="44.6" lengthAdjust="spacingAndGlyphs" transform="rotate(-90 418.8 563.8)">5'0" x 3'6"</text>
<text x="492.7" y="193.71" font-size="9.4" textLength="45.6" lengthAdjust="spacingAndGlyphs">6'0" x 5'0"</text>
<text x="670.8" y="193.97" font-size="9.4" textLength="46.3" lengthAdjust="spacingAndGlyphs">6'0" x 5'0"</text>
<text x="938.3" y="194.37" font-size="9.4" textLength="46.7" lengthAdjust="spacingAndGlyphs">6'0" x 5'0"</text>
<text x="801" y="194.5" font-size="9.4" textLength="53.2" lengthAdjust="spacingAndGlyphs">6'0" SLIDING</text>
<text x="1097.8" y="191.5" font-size="9" textLength="95.5" lengthAdjust="spacingAndGlyphs" font-weight="bold">8'-0" x 7'-0" O.H. DOOR</text>
<text x="464.9" y="261.1" font-size="13.2" textLength="99.8" lengthAdjust="spacingAndGlyphs" style="fill:#555">BEDROOM #5</text>
<line x1="464.4" y1="262.6" x2="565.2" y2="262.75" stroke="#444" stroke-width="0.9"/>
<text x="489.4" y="540.5" font-size="13.2" textLength="99.6" lengthAdjust="spacingAndGlyphs" style="fill:#555">BEDROOM #4</text>
<line x1="488.9" y1="542" x2="589.5" y2="542.15" stroke="#444" stroke-width="0.9"/>
<text x="776.5" y="322.2" font-size="13.2" textLength="84.4" lengthAdjust="spacingAndGlyphs" style="fill:#555">REC. ROOM</text>
<line x1="776" y1="323.7" x2="861.4" y2="323.83" stroke="#444" stroke-width="0.9"/>
<text x="699.2" y="550.9" font-size="13.2" textLength="70.2" lengthAdjust="spacingAndGlyphs" style="fill:#555">STORAGE</text>
<line x1="698.7" y1="552.4" x2="769.9" y2="552.51" stroke="#444" stroke-width="0.9"/>
<text x="684" y="350.2" font-size="12.8" textLength="94.3" lengthAdjust="spacingAndGlyphs" style="fill:#555">4" CONC. SLAB</text>
<line x1="683.5" y1="351.7" x2="778.8" y2="351.84" stroke="#444" stroke-width="0.9"/>
<text x="1118.8" y="315.8" font-size="13.2" textLength="58.9" lengthAdjust="spacingAndGlyphs" style="fill:#555">OUTSIDE</text>
<line x1="1118.3" y1="317.3" x2="1178.2" y2="317.39" stroke="#444" stroke-width="0.9"/>
<text x="1112.7" y="332.7" font-size="13.2" textLength="71.3" lengthAdjust="spacingAndGlyphs" style="fill:#555">STORAGE</text>
<line x1="1112.2" y1="334.2" x2="1184.5" y2="334.31" stroke="#444" stroke-width="0.9"/>
<text x="614.5" y="675.3" font-size="12.8" textLength="42.3" lengthAdjust="spacingAndGlyphs" style="fill:#555">STOOP</text>
<line x1="614" y1="676.8" x2="657.3" y2="676.86" stroke="#444" stroke-width="0.9"/>
<text x="958.3" y="710.7" font-size="13.6" textLength="108.4" lengthAdjust="spacingAndGlyphs" style="fill:#555">UNEXCAVATED</text>
<line x1="957.8" y1="712.2" x2="1067.2" y2="712.36" stroke="#444" stroke-width="0.9"/>
<text x="965" y="730" font-size="12.8" textLength="95" lengthAdjust="spacingAndGlyphs" style="fill:#555">4" CONC. SLAB</text>
<line x1="964.5" y1="731.5" x2="1060.5" y2="731.64" stroke="#444" stroke-width="0.9"/>
<text x="674" y="361.7" font-size="8.6" textLength="111" lengthAdjust="spacingAndGlyphs" font-weight="bold">w/ 6 MIL. VAPOR BARRIER</text>
<text x="675" y="371.6" font-size="8.6" textLength="113.3" lengthAdjust="spacingAndGlyphs" font-weight="bold">4" COMPACTED GRAN. FILL</text>
<text x="956.7" y="741.7" font-size="8.6" textLength="111.6" lengthAdjust="spacingAndGlyphs" font-weight="bold">w/ 6 x 6 - 10/10 W.W.M. OVER</text>
<text x="957.3" y="751.6" font-size="8.6" textLength="112.7" lengthAdjust="spacingAndGlyphs" font-weight="bold">4" COMPACTED GRAN. FILL</text>
<text x="598.5" y="686.6" font-size="8.6" textLength="72.2" lengthAdjust="spacingAndGlyphs" font-weight="bold">COMPACTED FILL</text>
<text x="445.3" y="170.8" font-size="8.6" textLength="60.7" lengthAdjust="spacingAndGlyphs" font-weight="bold">DROP TOP OF</text>
<text x="445.3" y="180.45" font-size="8.6" textLength="69.2" lengthAdjust="spacingAndGlyphs" font-weight="bold">CONC. WALL 3'-2"</text>
<polyline points="443.5,167.4 438.3,167.5 431.6,188.5" fill="none" stroke="#3a3a3a" stroke-width="0.7"/>
<path d="M431.8 187.5 Q428.6 197 431.3 207.5" fill="none" stroke="#222" stroke-width="1.6"/>
<text x="968.3" y="170.2" font-size="8.6" textLength="61" lengthAdjust="spacingAndGlyphs" font-weight="bold">DROP TOP OF</text>
<text x="968.3" y="179.85" font-size="8.6" textLength="69" lengthAdjust="spacingAndGlyphs" font-weight="bold">CONC. WALL 7'-8"</text>
<polyline points="1031,166.8 1035.3,166.9" fill="none" stroke="#3a3a3a" stroke-width="0.7"/>
<line x1="1035.3" y1="166.9" x2="1058.6" y2="194.4" stroke="#3a3a3a" stroke-width="0.7"/>
<polygon points="1058.6,194.4 1054.38,191.43 1056.36,189.74" fill="#222"/>
<line x1="1058.8" y1="193.5" x2="1058.8" y2="206" stroke="#222" stroke-width="1.8"/>
<text x="302.1" y="231.7" font-size="8.6" textLength="87.6" lengthAdjust="spacingAndGlyphs" font-weight="bold">2x6 STUD WALL OVER</text>
<text x="302.1" y="241.35" font-size="8.6" textLength="94" lengthAdjust="spacingAndGlyphs" font-weight="bold">8" x 42" CONC. WALL W/</text>
<text x="302.1" y="251" font-size="8.6" textLength="97.3" lengthAdjust="spacingAndGlyphs" font-weight="bold">16" x 8" CONC. FOOTING</text>
<polyline points="391.5,228.6 397.6,228.6" fill="none" stroke="#3a3a3a" stroke-width="0.7"/>
<line x1="397.6" y1="228.6" x2="421" y2="246.2" stroke="#3a3a3a" stroke-width="0.7"/>
<polygon points="421,246.2 416.22,244.23 417.79,242.16" fill="#222"/>
<text x="329.6" y="326.1" font-size="8.6" textLength="60.1" lengthAdjust="spacingAndGlyphs" font-weight="bold">DROP TOP OF</text>
<text x="329.6" y="335.75" font-size="8.6" textLength="70.8" lengthAdjust="spacingAndGlyphs" font-weight="bold">CONC. WALL 4'-6"</text>
<polyline points="392,323 396.9,323" fill="none" stroke="#3a3a3a" stroke-width="0.7"/>
<line x1="396.9" y1="323" x2="418.8" y2="345.8" stroke="#3a3a3a" stroke-width="0.7"/>
<polygon points="418.8,345.8 414.4,343.09 416.27,341.29" fill="#222"/>
<text x="781.1" y="224" font-size="8.6" textLength="87.3" lengthAdjust="spacingAndGlyphs" font-weight="bold">2x6 STUD WALL OVER</text>
<text x="781.1" y="233.65" font-size="8.6" textLength="96.2" lengthAdjust="spacingAndGlyphs" font-weight="bold">8" x 48" CONC. WALL W/</text>
<text x="781.1" y="243.3" font-size="8.6" textLength="97.2" lengthAdjust="spacingAndGlyphs" font-weight="bold">16" x 8" CONC. FOOTING</text>
<polyline points="779.8,221 773.1,221" fill="none" stroke="#3a3a3a" stroke-width="0.7"/>
<line x1="773.1" y1="221" x2="760.4" y2="204.4" stroke="#3a3a3a" stroke-width="0.7"/>
<polygon points="760.4,204.4 764.47,207.58 762.41,209.16" fill="#222"/>
<text x="443.7" y="328.8" font-size="8.6" textLength="88.4" lengthAdjust="spacingAndGlyphs" font-weight="bold">2x4 BRG. WALL OVER</text>
<text x="443.7" y="338.45" font-size="8.6" textLength="56.6" lengthAdjust="spacingAndGlyphs" font-weight="bold">16" x 8" CONT.</text>
<text x="443.7" y="348.1" font-size="8.6" textLength="64.2" lengthAdjust="spacingAndGlyphs" font-weight="bold">CONC. FOOTING</text>
<polyline points="533.5,326 538.8,326" fill="none" stroke="#3a3a3a" stroke-width="0.7"/>
<line x1="538.8" y1="326" x2="547.2" y2="359.6" stroke="#3a3a3a" stroke-width="0.7"/>
<polygon points="547.2,359.6 544.73,355.06 547.25,354.43" fill="#222"/>
<text x="443.5" y="483.5" font-size="8.6" textLength="88" lengthAdjust="spacingAndGlyphs" font-weight="bold">2x4 BRG. WALL OVER</text>
<text x="443.5" y="493.15" font-size="8.6" textLength="57.2" lengthAdjust="spacingAndGlyphs" font-weight="bold">16" x 8" CONT.</text>
<text x="443.5" y="502.8" font-size="8.6" textLength="64.8" lengthAdjust="spacingAndGlyphs" font-weight="bold">CONC. FOOTING</text>
<polyline points="533.6,480 538.8,480" fill="none" stroke="#3a3a3a" stroke-width="0.7"/>
<line x1="538.8" y1="480" x2="543.2" y2="464.2" stroke="#3a3a3a" stroke-width="0.7"/>
<polygon points="543.2,464.2 543.11,469.37 540.61,468.67" fill="#222"/>
<text x="663.3" y="467.8" font-size="8.6" textLength="88.6" lengthAdjust="spacingAndGlyphs" font-weight="bold">2x4 BRG. WALL OVER</text>
<text x="663.3" y="477.45" font-size="8.6" textLength="57.6" lengthAdjust="spacingAndGlyphs" font-weight="bold">16" x 8" CONT.</text>
<text x="663.3" y="487.1" font-size="8.6" textLength="65.2" lengthAdjust="spacingAndGlyphs" font-weight="bold">CONC. FOOTING</text>
<polyline points="753.5,465.5 757.7,465.5" fill="none" stroke="#3a3a3a" stroke-width="0.7"/>
<line x1="757.7" y1="465.5" x2="795.2" y2="494" stroke="#3a3a3a" stroke-width="0.7"/>
<polygon points="795.2,494 790.43,492.01 792.01,489.94" fill="#222"/>
<text x="1082.9" y="456.6" font-size="8.6" textLength="88.1" lengthAdjust="spacingAndGlyphs" font-weight="bold">2x4 BRG. WALL OVER</text>
<text x="1082.9" y="466.25" font-size="8.6" textLength="56.9" lengthAdjust="spacingAndGlyphs" font-weight="bold">16" x 8" CONT.</text>
<text x="1082.9" y="475.9" font-size="8.6" textLength="64.4" lengthAdjust="spacingAndGlyphs" font-weight="bold">CONC. FOOTING</text>
<polyline points="1081,453.6 1077,453.6" fill="none" stroke="#3a3a3a" stroke-width="0.7"/>
<line x1="1077" y1="453.6" x2="1031" y2="430.4" stroke="#3a3a3a" stroke-width="0.7"/>
<polygon points="1031,430.4 1036.05,431.49 1034.88,433.81" fill="#222"/>
<text x="455.2" y="594" font-size="8.6" textLength="96.1" lengthAdjust="spacingAndGlyphs" font-weight="bold">8" x 96" CONC. WALL w/</text>
<text x="455.2" y="603.65" font-size="8.6" textLength="97" lengthAdjust="spacingAndGlyphs" font-weight="bold">16" x 8" CONC. FOOTING</text>
<text x="455.2" y="613.3" font-size="8.6" textLength="68.8" lengthAdjust="spacingAndGlyphs" font-weight="bold">w/ TRIPLE PLATE</text>
<polyline points="453.5,591.2 446.8,591.2 441.8,624.4" fill="none" stroke="#3a3a3a" stroke-width="0.7"/>
<line x1="446.8" y1="591.2" x2="426.6" y2="600.6" stroke="#3a3a3a" stroke-width="0.7"/>
<polygon points="426.6,600.6 430.58,597.31 431.68,599.67" fill="#222"/>
<text x="911.6" y="543" font-size="8.6" textLength="96.1" lengthAdjust="spacingAndGlyphs" font-weight="bold">8" x 96" CONC. WALL w/</text>
<text x="911.6" y="552.65" font-size="8.6" textLength="97" lengthAdjust="spacingAndGlyphs" font-weight="bold">16" x 8" CONC. FOOTING</text>
<text x="911.6" y="562.3" font-size="8.6" textLength="68.9" lengthAdjust="spacingAndGlyphs" font-weight="bold">w/ TRIPLE PLATE</text>
<polyline points="1009,540.6 1014.3,540.7" fill="none" stroke="#3a3a3a" stroke-width="0.7"/>
<line x1="1014.3" y1="540.7" x2="1057.2" y2="534.6" stroke="#3a3a3a" stroke-width="0.7"/>
<polygon points="1057.2,534.6 1052.43,536.59 1052.07,534.02" fill="#222"/>
<line x1="1014.3" y1="540.7" x2="1027.5" y2="577" stroke="#3a3a3a" stroke-width="0.7"/>
<polygon points="1027.5,577 1024.57,572.75 1027.01,571.86" fill="#222"/>
<text x="1098.8" y="226.9" font-size="8.6" textLength="96.1" lengthAdjust="spacingAndGlyphs" font-weight="bold">8" x 96" CONC. WALL w/</text>
<text x="1098.8" y="236.9" font-size="8.6" textLength="97" lengthAdjust="spacingAndGlyphs" font-weight="bold">16" x 8" CONC. FOOTING</text>
<polyline points="1198.3,223.9 1204,223.9" fill="none" stroke="#3a3a3a" stroke-width="0.7"/>
<line x1="1204" y1="223.9" x2="1214.2" y2="203.4" stroke="#3a3a3a" stroke-width="0.7"/>
<polygon points="1214.2,203.4 1213.14,208.46 1210.81,207.3" fill="#222"/>
<line x1="1204" y1="223.9" x2="1232.2" y2="240.8" stroke="#3a3a3a" stroke-width="0.7"/>
<polygon points="1232.2,240.8 1227.24,239.34 1228.58,237.11" fill="#222"/>
<text x="1095.1" y="263.6" font-size="8.6" textLength="95.7" lengthAdjust="spacingAndGlyphs" font-weight="bold">CONC. WALL FORWARD</text>
<text x="1095.1" y="273.6" font-size="8.6" textLength="103.6" lengthAdjust="spacingAndGlyphs" font-weight="bold">4" FOR STOOP SUPPORT</text>
<polyline points="1091.9,260.2 1088.2,260.2" fill="none" stroke="#3a3a3a" stroke-width="0.7"/>
<line x1="1088.2" y1="260.2" x2="1063.6" y2="275" stroke="#3a3a3a" stroke-width="0.7"/>
<polygon points="1063.6,275 1067.21,271.31 1068.55,273.54" fill="#222"/>
<text x="653.6" y="649.5" font-size="8.6" textLength="95.4" lengthAdjust="spacingAndGlyphs" font-weight="bold">CONC. WALL FORWARD</text>
<text x="650" y="659.1" font-size="8.6" textLength="103.1" lengthAdjust="spacingAndGlyphs" font-weight="bold">4" FOR STOOP SUPPORT</text>
<polyline points="652,647 643.6,647" fill="none" stroke="#3a3a3a" stroke-width="0.7"/>
<line x1="643.6" y1="647" x2="629.2" y2="633.4" stroke="#3a3a3a" stroke-width="0.7"/>
<polygon points="629.2,633.4 633.73,635.89 631.94,637.78" fill="#222"/>
<polyline points="750.5,647.2 757.3,647.2" fill="none" stroke="#3a3a3a" stroke-width="0.7"/>
<line x1="757.3" y1="647.2" x2="770.5" y2="583.2" stroke="#3a3a3a" stroke-width="0.7"/>
<polygon points="770.5,583.2 770.76,588.36 768.22,587.83" fill="#222"/>
<text x="514" y="649.7" font-size="8.6" textLength="36.8" lengthAdjust="spacingAndGlyphs" font-weight="bold">4" CONC.</text>
<text x="514" y="659.7" font-size="8.6" textLength="29" lengthAdjust="spacingAndGlyphs" font-weight="bold">OFFSET</text>
<path d="M552 647 L558.8 647" fill="none" stroke="#3a3a3a" stroke-width="0.7"/>
<line x1="558.8" y1="647" x2="566.6" y2="633.8" stroke="#3a3a3a" stroke-width="0.7"/>
<polygon points="566.6,633.8 565.18,638.77 562.94,637.44" fill="#222"/>
<text x="1085.7" y="380.7" font-size="8.6" textLength="37" lengthAdjust="spacingAndGlyphs" font-weight="bold">4" CONC.</text>
<text x="1085.7" y="390.1" font-size="8.6" textLength="29.3" lengthAdjust="spacingAndGlyphs" font-weight="bold">OFFSET</text>
<polyline points="1084,378 1081.7,378" fill="none" stroke="#3a3a3a" stroke-width="0.7"/>
<line x1="1081.7" y1="378" x2="1056.5" y2="397.6" stroke="#3a3a3a" stroke-width="0.7"/>
<polygon points="1056.5,397.6 1059.65,393.5 1061.24,395.56" fill="#222"/>
<text x="820.9" y="615.2" font-size="8.6" textLength="36.1" lengthAdjust="spacingAndGlyphs" font-weight="bold">4" CONC.</text>
<text x="820.9" y="624.9" font-size="8.6" textLength="29.6" lengthAdjust="spacingAndGlyphs" font-weight="bold">OFFSET</text>
<polyline points="819.3,612.6 815.8,612.6" fill="none" stroke="#3a3a3a" stroke-width="0.7"/>
<line x1="815.8" y1="612.6" x2="803.8" y2="586" stroke="#3a3a3a" stroke-width="0.7"/>
<polygon points="803.8,586 807.04,590.02 804.67,591.09" fill="#222"/>
<text x="827.3" y="861.7" font-size="8.6" textLength="96" lengthAdjust="spacingAndGlyphs" font-weight="bold">8" x 48" CONC. WALL W/</text>
<text x="827.3" y="871.7" font-size="8.6" textLength="96.7" lengthAdjust="spacingAndGlyphs" font-weight="bold">16" x 8" CONC. FOOTING</text>
<polyline points="824,859 819.3,859" fill="none" stroke="#3a3a3a" stroke-width="0.7"/>
<line x1="819.3" y1="859" x2="800.2" y2="842.6" stroke="#3a3a3a" stroke-width="0.7"/>
<polygon points="800.2,842.6 804.84,844.87 803.15,846.84" fill="#222"/>
<line x1="819.3" y1="859" x2="811.6" y2="896.8" stroke="#3a3a3a" stroke-width="0.7"/>
<polygon points="811.6,896.8 811.32,891.64 813.87,892.16" fill="#222"/>
<text x="748" y="392.5" font-size="8.6" textLength="54.9" lengthAdjust="spacingAndGlyphs" font-weight="bold">CANT. FLOOR</text>
<text x="748" y="402.15" font-size="8.6" textLength="53.7" lengthAdjust="spacingAndGlyphs" font-weight="bold">IN THIS AREA</text>
<polyline points="804.5,390 809.6,390" fill="none" stroke="#3a3a3a" stroke-width="0.7"/>
<line x1="809.6" y1="390" x2="805.4" y2="439.6" stroke="#3a3a3a" stroke-width="0.7"/>
<polygon points="805.4,439.6 804.53,434.51 807.12,434.73" fill="#222"/>
<text x="884.8" y="388.7" font-size="8.6" textLength="56" lengthAdjust="spacingAndGlyphs" font-weight="bold">30" x 30" x 12"</text>
<text x="881.5" y="398.2" font-size="8.6" textLength="64.4" lengthAdjust="spacingAndGlyphs" font-weight="bold">CONC. FOOTING</text>
<polyline points="883,386 877.3,386" fill="none" stroke="#3a3a3a" stroke-width="0.7"/>
<line x1="877.3" y1="386" x2="857.2" y2="417.8" stroke="#3a3a3a" stroke-width="0.7"/>
<polygon points="857.2,417.8 858.77,412.88 860.97,414.27" fill="#222"/>
<polyline points="942,385.4 947.5,385.4" fill="none" stroke="#3a3a3a" stroke-width="0.7"/>
<line x1="947.5" y1="385.4" x2="971" y2="417" stroke="#3a3a3a" stroke-width="0.7"/>
<polygon points="971,417 966.97,413.76 969.06,412.21" fill="#222"/>
<text x="904.9" y="428.2" font-size="8.6" textLength="44.3" lengthAdjust="spacingAndGlyphs" font-weight="bold">DROPPED</text>
<text x="904.9" y="437.7" font-size="8.6" textLength="43.5" lengthAdjust="spacingAndGlyphs" font-weight="bold">LVL BEAM</text>
<text x="817.9" y="463.6" font-size="8.6" textLength="32.6" lengthAdjust="spacingAndGlyphs" font-weight="bold">RAILING</text>
<path d="M852 461 Q862 461 866 454" fill="none" stroke="#3a3a3a" stroke-width="0.7"/>
<line x1="866" y1="454" x2="873.3" y2="447" stroke="#3a3a3a" stroke-width="0.7"/>
<polygon points="873.3,447 870.59,451.4 868.79,449.52" fill="#222"/>
<text x="918.3" y="467" font-size="8.6" textLength="11.7" lengthAdjust="spacingAndGlyphs" font-weight="bold">UP</text>
<text x="917.4" y="477" font-size="8.6" textLength="13.4" lengthAdjust="spacingAndGlyphs" font-weight="bold">15R</text>
<text x="780.3" y="513.8" font-size="8.6" textLength="22.6" lengthAdjust="spacingAndGlyphs" font-weight="bold">FURN.</text>
<text x="869.3" y="513.9" font-size="8.6" textLength="13.8" lengthAdjust="spacingAndGlyphs" font-weight="bold">W.H.</text>
<text x="802" y="544" font-size="8.6" textLength="26.5" lengthAdjust="spacingAndGlyphs" font-weight="bold">DRAIN</text>
<text x="1026.6" y="556" font-size="8.6" textLength="21.2" lengthAdjust="spacingAndGlyphs" font-weight="bold">SUMP</text>
<text x="1032.2" y="564.2" font-size="8.6" textLength="11.4" lengthAdjust="spacingAndGlyphs" font-weight="bold">PIT</text>
<text x="522.9" y="373.1" font-size="7.6" textLength="22.6" lengthAdjust="spacingAndGlyphs" font-weight="bold">LINEN</text>
<text x="436.4" y="421.7" font-size="7.8" textLength="33.2" lengthAdjust="spacingAndGlyphs" font-weight="bold">60" x 36"</text>
<text x="436.4" y="432.2" font-size="7.8" textLength="33.2" lengthAdjust="spacingAndGlyphs" font-weight="bold">SHOWER</text>
<text x="528.4" y="450" font-size="8" textLength="9.2" lengthAdjust="spacingAndGlyphs">36</text>
<text x="470.5" y="365" font-size="6.5" textLength="13.5" lengthAdjust="spacingAndGlyphs" font-style="italic" style="fill:#555">2'6"</text>
<text x="569.2" y="364.4" font-size="6.5" textLength="13.3" lengthAdjust="spacingAndGlyphs" font-style="italic" style="fill:#555">2'6"</text>
<text x="569.2" y="464.6" font-size="6.5" textLength="13.3" lengthAdjust="spacingAndGlyphs" font-style="italic" style="fill:#555">2'6"</text>
<text x="729.5" y="432.3" font-size="6.5" textLength="12" lengthAdjust="spacingAndGlyphs" font-style="italic" style="fill:#555">3'0"</text>
<line x1="617.6" y1="217.7" x2="617.6" y2="320.5" stroke="#3a3a3a" stroke-width="0.8"/>
<line x1="617.6" y1="217.7" x2="622" y2="227.7" stroke="#3a3a3a" stroke-width="0.8"/>
<line x1="617.6" y1="320.5" x2="612.6" y2="310.3" stroke="#3a3a3a" stroke-width="0.8"/>
<text x="615.6" y="292.1" font-size="8.6" textLength="45.1" lengthAdjust="spacingAndGlyphs" transform="rotate(-90 615.6 292.1)" font-weight="bold">11 7/8" LPI'S</text>
<text x="626.6" y="308.8" font-size="8.6" textLength="77.8" lengthAdjust="spacingAndGlyphs" transform="rotate(-90 626.6 308.8)" font-weight="bold">SPACING BY MFG.</text>
<line x1="979" y1="229.3" x2="979" y2="330.7" stroke="#3a3a3a" stroke-width="0.8"/>
<line x1="979" y1="229.3" x2="983.4" y2="239.3" stroke="#3a3a3a" stroke-width="0.8"/>
<line x1="979" y1="330.7" x2="974" y2="320.5" stroke="#3a3a3a" stroke-width="0.8"/>
<text x="977" y="303.3" font-size="8.6" textLength="45" lengthAdjust="spacingAndGlyphs" transform="rotate(-90 977 303.3)" font-weight="bold">11 7/8" LPI'S</text>
<text x="988" y="319.3" font-size="8.6" textLength="76.6" lengthAdjust="spacingAndGlyphs" transform="rotate(-90 988 319.3)" font-weight="bold">SPACING BY MFG.</text>
<line x1="673.4" y1="511.7" x2="673.4" y2="613.7" stroke="#3a3a3a" stroke-width="0.8"/>
<line x1="673.4" y1="511.7" x2="677.8" y2="521.7" stroke="#3a3a3a" stroke-width="0.8"/>
<line x1="673.4" y1="613.7" x2="668.4" y2="603.5" stroke="#3a3a3a" stroke-width="0.8"/>
<text x="671.4" y="585.3" font-size="8.6" textLength="45.1" lengthAdjust="spacingAndGlyphs" transform="rotate(-90 671.4 585.3)" font-weight="bold">11 7/8" LPI'S</text>
<text x="682.4" y="603.7" font-size="8.6" textLength="77.7" lengthAdjust="spacingAndGlyphs" transform="rotate(-90 682.4 603.7)" font-weight="bold">SPACING BY MFG.</text>
<text x="1128.3" y="355.6" font-size="8.6" textLength="37.7" lengthAdjust="spacingAndGlyphs" font-weight="bold">TREATED</text>
<text x="1125" y="365" font-size="8.6" textLength="36.7" lengthAdjust="spacingAndGlyphs" font-weight="bold">2x JOISTS</text>
<line x1="1116.7" y1="357" x2="1179.3" y2="357.09" stroke="#3a3a3a" stroke-width="0.8"/>
<line x1="1116.7" y1="357" x2="1127.5" y2="352.4" stroke="#3a3a3a" stroke-width="0.8"/>
<line x1="1179.3" y1="357.1" x2="1168.3" y2="361.2" stroke="#3a3a3a" stroke-width="0.8"/>
<rect x="386.25" y="510.7" width="21.4" height="58.5" fill="none" stroke="#444" stroke-width="0.9"/>
<text x="395.8" y="567" font-size="8.4" textLength="54.5" lengthAdjust="spacingAndGlyphs" transform="rotate(-90 395.8 567)" font-weight="bold">WINDOW WELL</text>
<text x="405.4" y="561.7" font-size="8.4" textLength="41.7" lengthAdjust="spacingAndGlyphs" transform="rotate(-90 405.4 561.7)" font-weight="bold">AS REQ'D</text>
<polyline points="932.6,155.6 944.6,167.3 932.6,179.4" fill="none" stroke="#3a3a3a" stroke-width="0.8"/>
<circle cx="932.8" cy="167.3" r="8.3" fill="#fff" stroke="#3a3a3a" stroke-width="0.8"/>
<line x1="924.5" y1="167.3" x2="944.6" y2="167.3" stroke="#3a3a3a" stroke-width="0.7"/>
<text x="932.8" y="165.4" font-size="7.4" text-anchor="middle" font-weight="bold">A</text>
<text x="932.8" y="174.8" font-size="7.4" text-anchor="middle" font-weight="bold">4</text>
<polyline points="924.5,167.3 915,167.3 915,203.8" fill="none" stroke="#333" stroke-width="1.1"/>
<line x1="915" y1="210" x2="915" y2="229.5" stroke="#333" stroke-width="1.1"/>
<text x="1084.3" y="783.3" font-size="8.6" textLength="143" lengthAdjust="spacingAndGlyphs" font-weight="bold">SLOPE CONC. TOWARD O.H. DOOR</text>
<text x="873.3" y="809.3" font-size="8.6" textLength="143.4" lengthAdjust="spacingAndGlyphs" font-weight="bold">SLOPE CONC. TOWARD O.H. DOOR</text>
<text x="880" y="889" font-size="8.6" textLength="116.7" lengthAdjust="spacingAndGlyphs" font-weight="bold">BLOCK OUT FOR O.H. DOOR</text>
<text x="1103.6" y="865.3" font-size="8.6" textLength="116.8" lengthAdjust="spacingAndGlyphs" font-weight="bold">BLOCK OUT FOR O.H. DOOR</text>
<text x="421.7" y="1041" font-size="20.6" textLength="193.3" lengthAdjust="spacingAndGlyphs" style="fill:#6c6c6c">FOUNDATION PLAN</text>
<line x1="421.7" y1="1042.6" x2="749" y2="1043.1" stroke="#606060" stroke-width="2.2"/>
<text x="677.7" y="1053.3" font-size="7.4" textLength="70.6" lengthAdjust="spacingAndGlyphs" font-weight="bold">SCALE: 1/4" = 1'-0"</text>
<rect x="1408.7" y="765.3" width="106" height="34" fill="none" stroke="#444" stroke-width="0.9"/>
<text x="1412.3" y="779.4" font-size="14.6" textLength="98.4" lengthAdjust="spacingAndGlyphs" style="fill:#5a5a5a">LOWER LEVEL</text>
<text x="1422.3" y="795.4" font-size="14.6" textLength="80" lengthAdjust="spacingAndGlyphs" style="fill:#5a5a5a">1220 SQ. FT.</text>
<text x="1377.3" y="856" font-size="15" textLength="134.7" lengthAdjust="spacingAndGlyphs" style="fill:#5a5a5a">GENERAL NOTES:</text>
<line x1="1377.3" y1="857.9" x2="1563" y2="858.2" stroke="#606060" stroke-width="2"/>
<text x="1377.3" y="868.7" font-size="8.6" textLength="162.4" lengthAdjust="spacingAndGlyphs" font-weight="bold">1. 8'-0 1/2" CEILING HGT. (TRIPLE PLATE)</text>
<text x="1377.3" y="878.38" font-size="8.6" textLength="173" lengthAdjust="spacingAndGlyphs" font-weight="bold">2. SINGLE HUNG WINDOWS - UNLESS NOTED</text>
<text x="1388" y="888.05" font-size="8.6" textLength="175.7" lengthAdjust="spacingAndGlyphs" font-weight="bold">TEMP. GLASS AS REQ'D BY LOCAL CODE.</text>
<text x="1377.3" y="897.73" font-size="8.6" textLength="89.2" lengthAdjust="spacingAndGlyphs" font-weight="bold">3. SMOKE DETECTOR</text>
<text x="1377.3" y="907.4" font-size="8.6" textLength="50.2" lengthAdjust="spacingAndGlyphs" font-weight="bold">4. VENT FAN</text>
<text x="1377.3" y="917.08" font-size="8.6" textLength="128" lengthAdjust="spacingAndGlyphs" font-weight="bold">5. INTERIOR WALL DIMENSIONS</text>
<text x="1388" y="926.75" font-size="8.6" textLength="111.7" lengthAdjust="spacingAndGlyphs" font-weight="bold">ARE TO CENTER OF STUDS.</text>
<text x="1377.3" y="936.43" font-size="8.6" textLength="167.4" lengthAdjust="spacingAndGlyphs" font-weight="bold">6. EXTERIOR WALL DIMENSIONS ARE TO</text>
<text x="1390.3" y="946.1" font-size="8.6" textLength="140.4" lengthAdjust="spacingAndGlyphs" font-weight="bold">OUTSIDE OF CONC. OR STUD WALL</text>
<text x="1390.3" y="955.78" font-size="8.6" textLength="112.7" lengthAdjust="spacingAndGlyphs" font-weight="bold">UNLESS NOTED OTHERWISE.</text>
<text x="1377.3" y="965.45" font-size="8.6" textLength="174" lengthAdjust="spacingAndGlyphs" font-weight="bold">7. FURR-OUT &amp; INSULATE BASEMENT WALLS</text>
<text x="1388" y="975.12" font-size="8.6" textLength="123.3" lengthAdjust="spacingAndGlyphs" font-weight="bold">AS REQ'D BY LOCAL CODES.</text>
<text x="1377.3" y="984.8" font-size="8.6" textLength="184" lengthAdjust="spacingAndGlyphs" font-weight="bold">8. PROVIDE LOWER LEVEL EGRESS WINDOW</text>
<text x="1388" y="994.48" font-size="8.6" textLength="123.3" lengthAdjust="spacingAndGlyphs" font-weight="bold">AS REQ'D BY LOCAL CODES.</text>
<text x="1388" y="1004.15" font-size="8.6" textLength="102.3" lengthAdjust="spacingAndGlyphs" font-weight="bold">VERIFY LOCATION &amp; R.O.</text>
<circle cx="1473.2" cy="894.6" r="3.7" fill="none" stroke="#333" stroke-width="0.7"/>
<text x="1473.2" y="896.7" font-size="5.4" text-anchor="middle" font-weight="bold">S</text>
<circle cx="1434.2" cy="904.4" r="3.5" fill="none" stroke="#333" stroke-width="0.7"/>
<line x1="1430.7" y1="904.4" x2="1437.7" y2="904.4" stroke="#3a3a3a" stroke-width="0.6"/>
<line x1="1434.2" y1="900.9" x2="1434.2" y2="907.9" stroke="#3a3a3a" stroke-width="0.6"/>
<circle cx="1318" cy="1079.4" r="7.2" fill="none" stroke="#444" stroke-width="0.9"/>
<text x="1318" y="1083.2" font-size="10.5" text-anchor="middle">C</text>
<text x="1330.3" y="1083.4" font-size="10.2" textLength="260" lengthAdjust="spacingAndGlyphs">COPYRIGHT 2025 GREEN DRAFTING &amp; DESIGN INC.</text>
<text x="1326.3" y="1094.4" font-size="5.9" textLength="264" lengthAdjust="spacingAndGlyphs" font-weight="bold">PROTECTED UNDER ARCHITECTURAL WORKS COPYRIGHT PROTECTION ACT OF 1990</text>
</svg>
</body></html>
